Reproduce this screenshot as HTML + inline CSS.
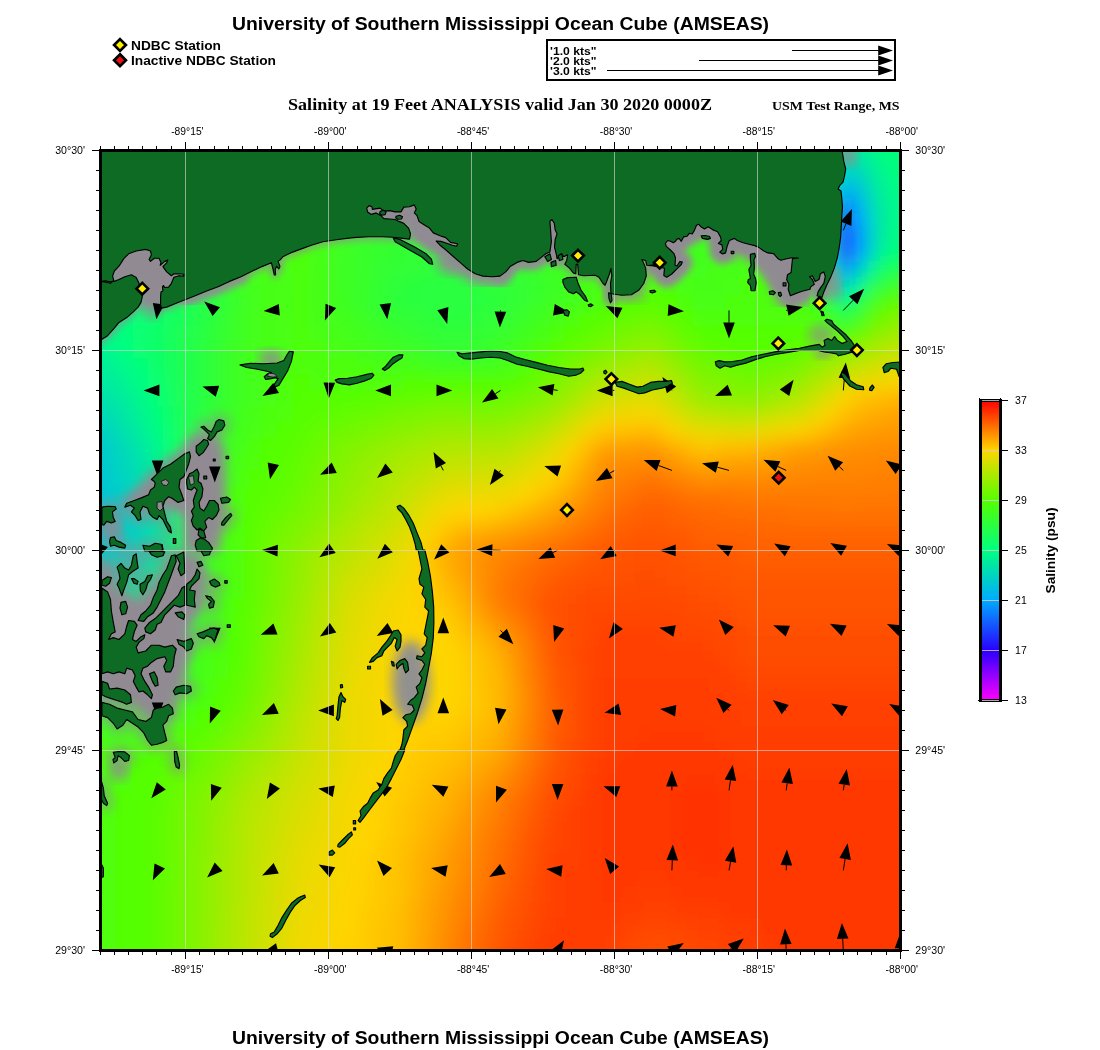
<!DOCTYPE html>
<html lang="en"><head><meta charset="utf-8"><title>USM Ocean Cube (AMSEAS) - Salinity at 19 Feet</title>
<style>
html,body{margin:0;padding:0;background:#fff;}
body{width:1100px;height:1050px;overflow:hidden;font-family:"Liberation Sans",sans-serif;}
svg{display:block;will-change:transform}
.sb{font-family:"Liberation Sans",sans-serif;font-weight:bold}
.s{font-family:"Liberation Sans",sans-serif}
.tb{font-family:"Liberation Serif",serif;font-weight:bold}
</style></head><body>
<svg width="1100" height="1050" viewBox="0 0 1100 1050">
<rect x="0" y="0" width="1100" height="1050" fill="#fff"/>
<defs><clipPath id="mapclip"><rect x="100.50" y="150.50" width="800.00" height="800.00"/></clipPath>
<filter id="fb" x="-5%" y="-5%" width="110%" height="110%"><feGaussianBlur stdDeviation="8.5"/></filter>
<filter id="gb" x="-20%" y="-20%" width="140%" height="140%"><feGaussianBlur stdDeviation="6"/></filter>
<filter id="gb3" x="-20%" y="-20%" width="140%" height="140%"><feGaussianBlur stdDeviation="3.5"/></filter>
</defs>
<g clip-path="url(#mapclip)">
<rect x="60" y="110" width="880" height="880" fill="#ff8000"/>
<g filter="url(#fb)">
<path d="M52 102h17v17h-17zM68 102h17v17h-17zM84 102h17v17h-17zM100 102h17v17h-17zM116 102h17v17h-17zM132 102h17v17h-17zM148 102h17v17h-17zM164 102h17v17h-17zM180 102h17v17h-17zM52 118h17v17h-17zM68 118h17v17h-17zM84 118h17v17h-17zM100 118h17v17h-17zM116 118h17v17h-17zM132 118h17v17h-17zM148 118h17v17h-17zM164 118h17v17h-17zM180 118h17v17h-17zM52 134h17v17h-17zM68 134h17v17h-17zM84 134h17v17h-17zM100 134h17v17h-17zM116 134h17v17h-17zM132 134h17v17h-17zM148 134h17v17h-17zM164 134h17v17h-17zM180 134h17v17h-17zM52 150h17v17h-17zM68 150h17v17h-17zM84 150h17v17h-17zM100 150h17v17h-17zM116 150h17v17h-17zM132 150h17v17h-17zM148 150h17v17h-17zM164 150h17v17h-17zM180 150h17v17h-17zM52 166h17v17h-17zM68 166h17v17h-17zM84 166h17v17h-17zM100 166h17v17h-17zM116 166h17v17h-17zM132 166h17v17h-17zM148 166h17v17h-17zM164 166h17v17h-17zM180 166h17v17h-17zM52 182h17v17h-17zM68 182h17v17h-17zM84 182h17v17h-17zM100 182h17v17h-17zM116 182h17v17h-17zM132 182h17v17h-17zM148 182h17v17h-17zM164 182h17v17h-17zM180 182h17v17h-17zM196 198h17v17h-17zM420 230h17v17h-17zM436 230h17v17h-17zM452 230h17v17h-17zM468 230h17v17h-17zM388 246h17v17h-17zM212 262h17v17h-17zM372 278h17v17h-17zM820 294h17v17h-17zM388 310h17v17h-17zM212 326h17v17h-17zM420 326h17v17h-17zM468 326h17v17h-17zM196 454h17v17h-17zM180 614h17v17h-17zM164 646h17v17h-17zM132 678h17v17h-17z" fill="#33ff33"/>
<path d="M196 102h17v17h-17zM196 118h17v17h-17zM196 134h17v17h-17zM196 150h17v17h-17zM196 166h17v17h-17zM196 182h17v17h-17zM404 230h17v17h-17zM484 230h17v17h-17zM212 246h17v17h-17zM500 246h17v17h-17zM372 262h17v17h-17zM516 278h17v17h-17zM516 294h17v17h-17zM500 310h17v17h-17zM404 326h17v17h-17zM484 326h17v17h-17zM212 342h17v17h-17zM436 342h17v17h-17zM452 342h17v17h-17zM212 358h17v17h-17zM212 374h17v17h-17zM212 390h17v17h-17zM52 694h17v17h-17zM68 694h17v17h-17zM84 694h17v17h-17zM100 694h17v17h-17z" fill="#35ff31"/>
<path d="M212 102h17v17h-17zM212 118h17v17h-17zM212 134h17v17h-17zM212 150h17v17h-17zM212 166h17v17h-17zM212 182h17v17h-17zM212 198h17v17h-17zM388 198h17v17h-17zM404 198h17v17h-17zM420 198h17v17h-17zM436 198h17v17h-17zM452 198h17v17h-17zM468 198h17v17h-17zM484 198h17v17h-17zM500 198h17v17h-17zM356 214h17v17h-17zM372 214h17v17h-17zM516 214h17v17h-17zM356 230h17v17h-17zM532 230h17v17h-17zM532 246h17v17h-17zM532 262h17v17h-17zM228 294h17v17h-17zM532 294h17v17h-17zM516 310h17v17h-17zM500 326h17v17h-17zM212 438h17v17h-17zM196 502h17v17h-17z" fill="#3aff29"/>
<path d="M228 102h17v17h-17zM676 102h17v17h-17zM228 118h17v17h-17zM676 118h17v17h-17zM228 134h17v17h-17zM676 134h17v17h-17zM228 150h17v17h-17zM676 150h17v17h-17zM228 166h17v17h-17zM676 166h17v17h-17zM228 182h17v17h-17zM676 182h17v17h-17zM228 198h17v17h-17zM676 198h17v17h-17zM228 214h17v17h-17zM580 214h17v17h-17zM596 214h17v17h-17zM612 214h17v17h-17zM628 214h17v17h-17zM644 214h17v17h-17zM660 214h17v17h-17zM564 230h17v17h-17zM564 246h17v17h-17zM548 294h17v17h-17zM500 342h17v17h-17zM228 406h17v17h-17zM212 470h17v17h-17zM196 598h17v17h-17zM180 662h17v17h-17zM116 710h17v17h-17z" fill="#3fff21"/>
<path d="M244 102h17v17h-17zM788 102h17v17h-17zM244 118h17v17h-17zM788 118h17v17h-17zM244 134h17v17h-17zM788 134h17v17h-17zM244 150h17v17h-17zM788 150h17v17h-17zM244 166h17v17h-17zM788 166h17v17h-17zM244 182h17v17h-17zM788 182h17v17h-17zM244 198h17v17h-17zM788 198h17v17h-17zM244 214h17v17h-17zM788 214h17v17h-17zM244 230h17v17h-17zM788 230h17v17h-17zM244 246h17v17h-17zM596 246h17v17h-17zM660 246h17v17h-17zM708 246h17v17h-17zM244 262h17v17h-17zM580 262h17v17h-17zM692 262h17v17h-17zM244 278h17v17h-17zM900 278h17v17h-17zM916 278h17v17h-17zM932 278h17v17h-17zM244 294h17v17h-17zM564 294h17v17h-17zM244 310h17v17h-17zM324 310h17v17h-17zM852 310h17v17h-17zM244 326h17v17h-17zM340 326h17v17h-17zM244 342h17v17h-17zM356 342h17v17h-17zM244 358h17v17h-17zM420 358h17v17h-17zM468 358h17v17h-17zM484 358h17v17h-17zM244 374h17v17h-17zM244 390h17v17h-17zM228 438h17v17h-17zM212 502h17v17h-17zM196 630h17v17h-17zM52 726h17v17h-17zM68 726h17v17h-17zM84 726h17v17h-17zM100 726h17v17h-17z" fill="#44ff1a"/>
<path d="M260 102h17v17h-17zM308 102h17v17h-17zM740 102h17v17h-17zM260 118h17v17h-17zM308 118h17v17h-17zM740 118h17v17h-17zM260 134h17v17h-17zM308 134h17v17h-17zM740 134h17v17h-17zM260 150h17v17h-17zM308 150h17v17h-17zM740 150h17v17h-17zM260 166h17v17h-17zM308 166h17v17h-17zM740 166h17v17h-17zM260 182h17v17h-17zM308 182h17v17h-17zM740 182h17v17h-17zM260 198h17v17h-17zM308 198h17v17h-17zM740 198h17v17h-17zM260 214h17v17h-17zM308 214h17v17h-17zM740 214h17v17h-17zM260 230h17v17h-17zM308 230h17v17h-17zM740 230h17v17h-17zM260 246h17v17h-17zM308 246h17v17h-17zM740 246h17v17h-17zM756 246h17v17h-17zM260 262h17v17h-17zM308 262h17v17h-17zM596 262h17v17h-17zM660 262h17v17h-17zM724 262h17v17h-17zM772 262h17v17h-17zM788 262h17v17h-17zM260 278h17v17h-17zM580 278h17v17h-17zM708 278h17v17h-17zM692 294h17v17h-17zM804 294h17v17h-17zM260 310h17v17h-17zM308 310h17v17h-17zM548 310h17v17h-17zM260 326h17v17h-17zM324 326h17v17h-17zM532 326h17v17h-17zM260 342h17v17h-17zM340 342h17v17h-17zM516 342h17v17h-17zM260 358h17v17h-17zM388 358h17v17h-17zM244 406h17v17h-17zM212 550h17v17h-17zM212 566h17v17h-17zM212 582h17v17h-17zM212 598h17v17h-17zM196 662h17v17h-17zM116 726h17v17h-17z" fill="#47ff14"/>
<path d="M276 102h17v17h-17zM276 118h17v17h-17zM276 134h17v17h-17zM276 150h17v17h-17zM276 166h17v17h-17zM276 182h17v17h-17zM276 198h17v17h-17zM276 214h17v17h-17zM276 230h17v17h-17zM276 246h17v17h-17zM276 262h17v17h-17zM612 262h17v17h-17zM628 262h17v17h-17zM740 262h17v17h-17zM756 262h17v17h-17zM276 278h17v17h-17zM676 278h17v17h-17zM724 278h17v17h-17zM276 294h17v17h-17zM580 294h17v17h-17zM708 294h17v17h-17zM276 310h17v17h-17zM276 326h17v17h-17zM308 326h17v17h-17zM276 342h17v17h-17zM324 342h17v17h-17zM372 358h17v17h-17zM500 358h17v17h-17zM260 374h17v17h-17zM260 390h17v17h-17zM244 422h17v17h-17zM228 470h17v17h-17zM212 614h17v17h-17zM196 678h17v17h-17zM164 710h17v17h-17zM132 726h17v17h-17z" fill="#49ff12"/>
<path d="M292 102h17v17h-17zM292 118h17v17h-17zM292 134h17v17h-17zM292 150h17v17h-17zM292 166h17v17h-17zM292 182h17v17h-17zM292 198h17v17h-17zM292 214h17v17h-17zM292 230h17v17h-17zM292 246h17v17h-17zM292 262h17v17h-17zM612 278h17v17h-17zM660 278h17v17h-17zM676 294h17v17h-17zM740 294h17v17h-17zM756 294h17v17h-17zM772 294h17v17h-17zM788 294h17v17h-17zM564 310h17v17h-17zM292 326h17v17h-17zM292 342h17v17h-17zM324 358h17v17h-17zM340 358h17v17h-17zM276 374h17v17h-17zM260 406h17v17h-17zM244 438h17v17h-17zM228 502h17v17h-17zM212 630h17v17h-17zM180 710h17v17h-17zM148 726h17v17h-17zM100 742h17v17h-17zM52 758h17v17h-17zM68 758h17v17h-17zM84 758h17v17h-17zM100 758h17v17h-17zM52 774h17v17h-17zM68 774h17v17h-17zM84 774h17v17h-17z" fill="#4dff0d"/>
<path d="M324 102h17v17h-17zM708 102h17v17h-17zM324 118h17v17h-17zM708 118h17v17h-17zM324 134h17v17h-17zM708 134h17v17h-17zM324 150h17v17h-17zM708 150h17v17h-17zM324 166h17v17h-17zM708 166h17v17h-17zM324 182h17v17h-17zM708 182h17v17h-17zM324 198h17v17h-17zM708 198h17v17h-17zM324 214h17v17h-17zM708 214h17v17h-17zM324 230h17v17h-17zM596 230h17v17h-17zM612 230h17v17h-17zM628 230h17v17h-17zM644 230h17v17h-17zM660 230h17v17h-17zM708 230h17v17h-17zM324 246h17v17h-17zM580 246h17v17h-17zM676 246h17v17h-17zM564 278h17v17h-17zM436 358h17v17h-17zM452 358h17v17h-17zM212 486h17v17h-17zM180 678h17v17h-17zM164 694h17v17h-17zM132 710h17v17h-17z" fill="#42ff1c"/>
<path d="M340 102h17v17h-17zM356 102h17v17h-17zM372 102h17v17h-17zM388 102h17v17h-17zM404 102h17v17h-17zM420 102h17v17h-17zM436 102h17v17h-17zM452 102h17v17h-17zM468 102h17v17h-17zM484 102h17v17h-17zM500 102h17v17h-17zM516 102h17v17h-17zM532 102h17v17h-17zM548 102h17v17h-17zM564 102h17v17h-17zM580 102h17v17h-17zM596 102h17v17h-17zM612 102h17v17h-17zM628 102h17v17h-17zM644 102h17v17h-17zM340 118h17v17h-17zM356 118h17v17h-17zM372 118h17v17h-17zM388 118h17v17h-17zM404 118h17v17h-17zM420 118h17v17h-17zM436 118h17v17h-17zM452 118h17v17h-17zM468 118h17v17h-17zM484 118h17v17h-17zM500 118h17v17h-17zM516 118h17v17h-17zM532 118h17v17h-17zM548 118h17v17h-17zM564 118h17v17h-17zM580 118h17v17h-17zM596 118h17v17h-17zM612 118h17v17h-17zM628 118h17v17h-17zM644 118h17v17h-17zM340 134h17v17h-17zM356 134h17v17h-17zM372 134h17v17h-17zM388 134h17v17h-17zM404 134h17v17h-17zM420 134h17v17h-17zM436 134h17v17h-17zM452 134h17v17h-17zM468 134h17v17h-17zM484 134h17v17h-17zM500 134h17v17h-17zM516 134h17v17h-17zM532 134h17v17h-17zM548 134h17v17h-17zM564 134h17v17h-17zM580 134h17v17h-17zM596 134h17v17h-17zM612 134h17v17h-17zM628 134h17v17h-17zM644 134h17v17h-17zM340 150h17v17h-17zM356 150h17v17h-17zM372 150h17v17h-17zM388 150h17v17h-17zM404 150h17v17h-17zM420 150h17v17h-17zM436 150h17v17h-17zM452 150h17v17h-17zM468 150h17v17h-17zM484 150h17v17h-17zM500 150h17v17h-17zM516 150h17v17h-17zM532 150h17v17h-17zM548 150h17v17h-17zM564 150h17v17h-17zM580 150h17v17h-17zM596 150h17v17h-17zM612 150h17v17h-17zM628 150h17v17h-17zM644 150h17v17h-17zM340 166h17v17h-17zM356 166h17v17h-17zM372 166h17v17h-17zM388 166h17v17h-17zM404 166h17v17h-17zM420 166h17v17h-17zM436 166h17v17h-17zM452 166h17v17h-17zM468 166h17v17h-17zM484 166h17v17h-17zM500 166h17v17h-17zM516 166h17v17h-17zM532 166h17v17h-17zM548 166h17v17h-17zM564 166h17v17h-17zM580 166h17v17h-17zM596 166h17v17h-17zM612 166h17v17h-17zM628 166h17v17h-17zM644 166h17v17h-17zM340 182h17v17h-17zM356 182h17v17h-17zM372 182h17v17h-17zM388 182h17v17h-17zM404 182h17v17h-17zM420 182h17v17h-17zM436 182h17v17h-17zM452 182h17v17h-17zM468 182h17v17h-17zM484 182h17v17h-17zM500 182h17v17h-17zM516 182h17v17h-17zM532 182h17v17h-17zM548 182h17v17h-17zM564 182h17v17h-17zM580 182h17v17h-17zM596 182h17v17h-17zM612 182h17v17h-17zM628 182h17v17h-17zM644 182h17v17h-17zM340 198h17v17h-17zM356 198h17v17h-17zM372 198h17v17h-17zM516 198h17v17h-17zM532 198h17v17h-17zM548 198h17v17h-17zM564 198h17v17h-17zM580 198h17v17h-17zM340 214h17v17h-17zM532 214h17v17h-17zM548 214h17v17h-17zM340 230h17v17h-17zM548 230h17v17h-17zM340 246h17v17h-17zM228 262h17v17h-17zM340 262h17v17h-17zM228 278h17v17h-17zM340 278h17v17h-17zM228 310h17v17h-17zM356 310h17v17h-17zM228 326h17v17h-17zM372 326h17v17h-17zM404 342h17v17h-17zM196 518h17v17h-17zM164 678h17v17h-17zM132 694h17v17h-17zM52 710h17v17h-17zM68 710h17v17h-17zM84 710h17v17h-17z" fill="#3cff26"/>
<path d="M660 102h17v17h-17zM660 118h17v17h-17zM660 134h17v17h-17zM660 150h17v17h-17zM660 166h17v17h-17zM660 182h17v17h-17zM596 198h17v17h-17zM612 198h17v17h-17zM628 198h17v17h-17zM644 198h17v17h-17zM660 198h17v17h-17zM564 214h17v17h-17zM228 230h17v17h-17zM228 246h17v17h-17zM548 246h17v17h-17zM548 262h17v17h-17zM548 278h17v17h-17zM804 278h17v17h-17zM884 278h17v17h-17zM340 294h17v17h-17zM228 342h17v17h-17zM388 342h17v17h-17zM228 358h17v17h-17zM228 374h17v17h-17zM228 390h17v17h-17zM212 454h17v17h-17zM196 534h17v17h-17zM196 550h17v17h-17zM196 566h17v17h-17zM196 582h17v17h-17zM180 646h17v17h-17zM148 694h17v17h-17zM100 710h17v17h-17z" fill="#3dff24"/>
<path d="M692 102h17v17h-17zM692 118h17v17h-17zM692 134h17v17h-17zM692 150h17v17h-17zM692 166h17v17h-17zM692 182h17v17h-17zM692 198h17v17h-17zM676 214h17v17h-17zM692 214h17v17h-17zM580 230h17v17h-17zM676 230h17v17h-17zM692 230h17v17h-17zM692 246h17v17h-17zM324 262h17v17h-17zM564 262h17v17h-17zM324 278h17v17h-17zM324 294h17v17h-17zM340 310h17v17h-17zM532 310h17v17h-17zM356 326h17v17h-17zM516 326h17v17h-17zM372 342h17v17h-17zM228 422h17v17h-17zM196 614h17v17h-17z" fill="#41ff1f"/>
<path d="M724 102h17v17h-17zM756 102h17v17h-17zM772 102h17v17h-17zM724 118h17v17h-17zM756 118h17v17h-17zM772 118h17v17h-17zM724 134h17v17h-17zM756 134h17v17h-17zM772 134h17v17h-17zM724 150h17v17h-17zM756 150h17v17h-17zM772 150h17v17h-17zM724 166h17v17h-17zM756 166h17v17h-17zM772 166h17v17h-17zM724 182h17v17h-17zM756 182h17v17h-17zM772 182h17v17h-17zM724 198h17v17h-17zM756 198h17v17h-17zM772 198h17v17h-17zM724 214h17v17h-17zM756 214h17v17h-17zM772 214h17v17h-17zM724 230h17v17h-17zM756 230h17v17h-17zM772 230h17v17h-17zM612 246h17v17h-17zM628 246h17v17h-17zM644 246h17v17h-17zM724 246h17v17h-17zM772 246h17v17h-17zM788 246h17v17h-17zM676 262h17v17h-17zM708 262h17v17h-17zM308 278h17v17h-17zM692 278h17v17h-17zM260 294h17v17h-17zM308 294h17v17h-17zM820 310h17v17h-17zM404 358h17v17h-17zM228 454h17v17h-17zM212 518h17v17h-17zM212 534h17v17h-17zM196 646h17v17h-17zM180 694h17v17h-17zM148 710h17v17h-17z" fill="#46ff17"/>
<path d="M804 102h17v17h-17zM804 118h17v17h-17zM804 134h17v17h-17zM52 198h17v17h-17zM68 198h17v17h-17zM84 198h17v17h-17zM100 198h17v17h-17zM116 198h17v17h-17zM132 198h17v17h-17zM148 198h17v17h-17zM420 246h17v17h-17zM436 246h17v17h-17zM452 246h17v17h-17zM404 262h17v17h-17zM484 262h17v17h-17zM500 278h17v17h-17zM212 294h17v17h-17zM500 294h17v17h-17zM404 310h17v17h-17zM484 310h17v17h-17zM436 326h17v17h-17zM452 326h17v17h-17zM196 422h17v17h-17zM180 598h17v17h-17zM148 662h17v17h-17z" fill="#30ff38"/>
<path d="M820 102h17v17h-17zM116 246h17v17h-17zM148 262h17v17h-17zM164 294h17v17h-17zM148 614h17v17h-17zM52 646h17v17h-17zM68 646h17v17h-17zM84 646h17v17h-17z" fill="#14ff61"/>
<path d="M836 102h17v17h-17zM820 182h17v17h-17zM884 198h17v17h-17zM52 326h17v17h-17zM68 326h17v17h-17zM84 326h17v17h-17zM100 342h17v17h-17zM148 438h17v17h-17z" fill="#00f78d"/>
<path d="M852 102h17v17h-17zM52 342h17v17h-17zM68 342h17v17h-17zM84 342h17v17h-17zM116 374h17v17h-17zM132 406h17v17h-17zM148 454h17v17h-17z" fill="#00f392"/>
<path d="M868 102h17v17h-17zM868 118h17v17h-17zM868 134h17v17h-17zM852 278h17v17h-17zM148 422h17v17h-17z" fill="#00fc85"/>
<path d="M884 102h17v17h-17zM884 118h17v17h-17zM884 134h17v17h-17zM900 166h17v17h-17zM916 166h17v17h-17zM932 166h17v17h-17zM52 278h17v17h-17zM68 278h17v17h-17zM84 278h17v17h-17zM836 294h17v17h-17zM148 390h17v17h-17zM164 486h17v17h-17zM164 502h17v17h-17zM164 518h17v17h-17zM164 534h17v17h-17z" fill="#05ff78"/>
<path d="M900 102h17v17h-17zM916 102h17v17h-17zM932 102h17v17h-17zM900 118h17v17h-17zM916 118h17v17h-17zM932 118h17v17h-17zM900 134h17v17h-17zM916 134h17v17h-17zM932 134h17v17h-17zM116 278h17v17h-17zM132 326h17v17h-17zM132 342h17v17h-17zM164 470h17v17h-17zM164 550h17v17h-17zM52 630h17v17h-17zM68 630h17v17h-17zM84 630h17v17h-17z" fill="#08ff73"/>
<path d="M820 118h17v17h-17zM820 134h17v17h-17zM164 390h17v17h-17z" fill="#13ff64"/>
<path d="M836 118h17v17h-17zM148 566h17v17h-17zM132 582h17v17h-17zM100 598h17v17h-17z" fill="#00f58f"/>
<path d="M852 118h17v17h-17zM52 598h17v17h-17zM68 598h17v17h-17zM84 598h17v17h-17z" fill="#00f194"/>
<path d="M836 134h17v17h-17zM852 134h17v17h-17zM868 166h17v17h-17zM100 358h17v17h-17z" fill="#00f097"/>
<path d="M804 150h17v17h-17zM180 214h17v17h-17zM196 230h17v17h-17zM420 262h17v17h-17zM468 262h17v17h-17zM388 278h17v17h-17zM484 278h17v17h-17zM420 310h17v17h-17zM468 310h17v17h-17zM196 406h17v17h-17zM116 678h17v17h-17z" fill="#2eff3b"/>
<path d="M820 150h17v17h-17zM116 262h17v17h-17zM148 310h17v17h-17zM148 358h17v17h-17zM164 422h17v17h-17z" fill="#0eff6c"/>
<path d="M836 150h17v17h-17zM868 230h17v17h-17zM116 422h17v17h-17zM132 454h17v17h-17zM116 566h17v17h-17z" fill="#00e2ab"/>
<path d="M852 150h17v17h-17zM116 406h17v17h-17zM132 438h17v17h-17zM148 502h17v17h-17zM148 518h17v17h-17zM132 566h17v17h-17z" fill="#00e7a4"/>
<path d="M868 150h17v17h-17zM884 214h17v17h-17zM884 230h17v17h-17zM132 390h17v17h-17z" fill="#00f88a"/>
<path d="M884 150h17v17h-17zM900 182h17v17h-17zM916 182h17v17h-17zM932 182h17v17h-17zM900 214h17v17h-17zM916 214h17v17h-17zM932 214h17v17h-17zM100 294h17v17h-17zM116 326h17v17h-17zM148 406h17v17h-17z" fill="#02ff7d"/>
<path d="M900 150h17v17h-17zM916 150h17v17h-17zM932 150h17v17h-17zM100 278h17v17h-17zM132 294h17v17h-17zM132 310h17v17h-17zM116 614h17v17h-17z" fill="#07ff76"/>
<path d="M804 166h17v17h-17zM196 246h17v17h-17zM436 262h17v17h-17zM452 262h17v17h-17zM404 278h17v17h-17zM468 278h17v17h-17zM388 294h17v17h-17zM484 294h17v17h-17zM436 310h17v17h-17zM452 310h17v17h-17zM836 310h17v17h-17zM196 342h17v17h-17zM196 358h17v17h-17zM196 374h17v17h-17zM196 390h17v17h-17zM180 582h17v17h-17zM164 630h17v17h-17z" fill="#2cff3d"/>
<path d="M820 166h17v17h-17zM900 230h17v17h-17zM916 230h17v17h-17zM932 230h17v17h-17zM116 294h17v17h-17zM116 310h17v17h-17zM132 358h17v17h-17z" fill="#03ff7b"/>
<path d="M836 166h17v17h-17zM100 470h17v17h-17zM100 534h17v17h-17z" fill="#00cacf"/>
<path d="M852 166h17v17h-17zM52 406h17v17h-17zM68 406h17v17h-17zM84 406h17v17h-17zM100 422h17v17h-17zM132 518h17v17h-17zM132 534h17v17h-17zM116 550h17v17h-17z" fill="#00d6bd"/>
<path d="M884 166h17v17h-17zM820 262h17v17h-17zM100 310h17v17h-17zM132 374h17v17h-17zM52 614h17v17h-17zM68 614h17v17h-17zM84 614h17v17h-17z" fill="#00fd83"/>
<path d="M804 182h17v17h-17zM148 214h17v17h-17zM180 230h17v17h-17zM196 262h17v17h-17zM420 294h17v17h-17zM436 294h17v17h-17zM452 294h17v17h-17zM180 566h17v17h-17zM132 662h17v17h-17zM52 678h17v17h-17zM68 678h17v17h-17zM84 678h17v17h-17z" fill="#29ff43"/>
<path d="M836 182h17v17h-17z" fill="#00adfa"/>
<path d="M852 182h17v17h-17zM52 470h17v17h-17zM68 470h17v17h-17zM84 470h17v17h-17zM52 518h17v17h-17zM68 518h17v17h-17zM84 518h17v17h-17z" fill="#00c5d6"/>
<path d="M868 182h17v17h-17zM868 246h17v17h-17zM148 486h17v17h-17zM100 582h17v17h-17z" fill="#00e9a1"/>
<path d="M884 182h17v17h-17zM52 310h17v17h-17zM68 310h17v17h-17zM84 310h17v17h-17zM100 326h17v17h-17zM116 358h17v17h-17zM116 598h17v17h-17z" fill="#00fa88"/>
<path d="M164 198h17v17h-17zM180 198h17v17h-17zM196 214h17v17h-17zM404 246h17v17h-17zM468 246h17v17h-17zM484 246h17v17h-17zM388 262h17v17h-17zM500 262h17v17h-17zM804 262h17v17h-17zM212 278h17v17h-17zM372 294h17v17h-17zM212 310h17v17h-17zM196 438h17v17h-17z" fill="#31ff36"/>
<path d="M804 198h17v17h-17zM132 214h17v17h-17zM804 246h17v17h-17zM900 262h17v17h-17zM916 262h17v17h-17zM932 262h17v17h-17zM196 278h17v17h-17zM852 294h17v17h-17zM196 310h17v17h-17zM148 646h17v17h-17z" fill="#27ff45"/>
<path d="M820 198h17v17h-17zM52 358h17v17h-17zM68 358h17v17h-17zM84 358h17v17h-17z" fill="#00ec9c"/>
<path d="M836 198h17v17h-17z" fill="#0d77ff"/>
<path d="M852 198h17v17h-17z" fill="#00b4f0"/>
<path d="M868 198h17v17h-17zM868 214h17v17h-17zM100 390h17v17h-17z" fill="#00e4a9"/>
<path d="M900 198h17v17h-17zM916 198h17v17h-17zM932 198h17v17h-17zM884 246h17v17h-17zM52 294h17v17h-17zM68 294h17v17h-17zM84 294h17v17h-17zM116 342h17v17h-17zM148 582h17v17h-17zM132 598h17v17h-17zM100 614h17v17h-17z" fill="#00ff80"/>
<path d="M52 214h17v17h-17zM68 214h17v17h-17zM84 214h17v17h-17zM180 342h17v17h-17zM180 534h17v17h-17zM164 614h17v17h-17z" fill="#24ff4a"/>
<path d="M100 214h17v17h-17zM116 214h17v17h-17zM804 214h17v17h-17zM164 230h17v17h-17zM804 230h17v17h-17zM180 246h17v17h-17zM196 294h17v17h-17zM180 550h17v17h-17zM116 662h17v17h-17z" fill="#25ff48"/>
<path d="M164 214h17v17h-17zM420 278h17v17h-17zM436 278h17v17h-17zM452 278h17v17h-17zM868 278h17v17h-17zM404 294h17v17h-17zM468 294h17v17h-17zM196 326h17v17h-17zM100 678h17v17h-17z" fill="#2aff40"/>
<path d="M212 214h17v17h-17zM388 214h17v17h-17zM404 214h17v17h-17zM484 214h17v17h-17zM500 214h17v17h-17zM372 230h17v17h-17zM516 230h17v17h-17zM356 246h17v17h-17zM356 262h17v17h-17zM356 278h17v17h-17zM532 278h17v17h-17zM356 294h17v17h-17zM388 326h17v17h-17zM420 342h17v17h-17zM484 342h17v17h-17zM212 422h17v17h-17zM196 486h17v17h-17zM180 630h17v17h-17zM164 662h17v17h-17zM116 694h17v17h-17z" fill="#38ff2c"/>
<path d="M420 214h17v17h-17zM436 214h17v17h-17zM452 214h17v17h-17zM468 214h17v17h-17zM212 230h17v17h-17zM388 230h17v17h-17zM500 230h17v17h-17zM372 246h17v17h-17zM516 246h17v17h-17zM516 262h17v17h-17zM372 310h17v17h-17zM468 342h17v17h-17zM212 406h17v17h-17zM196 470h17v17h-17zM148 678h17v17h-17z" fill="#36ff2e"/>
<path d="M820 214h17v17h-17zM820 246h17v17h-17zM52 374h17v17h-17zM68 374h17v17h-17zM84 374h17v17h-17zM148 534h17v17h-17zM52 582h17v17h-17zM68 582h17v17h-17zM84 582h17v17h-17z" fill="#00e6a6"/>
<path d="M836 214h17v17h-17z" fill="#184bff"/>
<path d="M852 214h17v17h-17z" fill="#00aaff"/>
<path d="M52 230h17v17h-17zM68 230h17v17h-17zM84 230h17v17h-17zM100 230h17v17h-17zM148 246h17v17h-17zM164 342h17v17h-17z" fill="#19ff5a"/>
<path d="M116 230h17v17h-17zM180 294h17v17h-17zM164 598h17v17h-17z" fill="#1dff54"/>
<path d="M132 230h17v17h-17zM884 262h17v17h-17zM180 278h17v17h-17zM180 310h17v17h-17zM148 630h17v17h-17zM52 662h17v17h-17zM68 662h17v17h-17zM84 662h17v17h-17z" fill="#1fff52"/>
<path d="M148 230h17v17h-17zM180 262h17v17h-17zM180 358h17v17h-17zM180 374h17v17h-17zM180 502h17v17h-17zM180 518h17v17h-17z" fill="#22ff4d"/>
<path d="M820 230h17v17h-17z" fill="#00e0ae"/>
<path d="M836 230h17v17h-17z" fill="#1f2cff"/>
<path d="M852 230h17v17h-17z" fill="#0499ff"/>
<path d="M52 246h17v17h-17zM68 246h17v17h-17zM84 246h17v17h-17zM148 278h17v17h-17zM148 326h17v17h-17zM164 566h17v17h-17z" fill="#0fff69"/>
<path d="M100 246h17v17h-17zM132 262h17v17h-17zM148 342h17v17h-17zM164 406h17v17h-17zM116 630h17v17h-17z" fill="#11ff66"/>
<path d="M132 246h17v17h-17zM164 310h17v17h-17zM164 374h17v17h-17zM164 582h17v17h-17zM132 630h17v17h-17zM100 646h17v17h-17z" fill="#16ff5f"/>
<path d="M164 246h17v17h-17zM180 326h17v17h-17zM180 390h17v17h-17zM180 406h17v17h-17zM180 422h17v17h-17zM180 438h17v17h-17zM180 454h17v17h-17zM180 470h17v17h-17zM180 486h17v17h-17zM132 646h17v17h-17zM100 662h17v17h-17z" fill="#20ff4f"/>
<path d="M836 246h17v17h-17z" fill="#1c3aff"/>
<path d="M852 246h17v17h-17z" fill="#01a7ff"/>
<path d="M900 246h17v17h-17zM916 246h17v17h-17zM932 246h17v17h-17zM52 262h17v17h-17zM68 262h17v17h-17zM84 262h17v17h-17zM868 262h17v17h-17zM148 374h17v17h-17zM164 454h17v17h-17zM148 598h17v17h-17z" fill="#0aff71"/>
<path d="M100 262h17v17h-17zM132 278h17v17h-17zM148 294h17v17h-17zM164 438h17v17h-17zM132 614h17v17h-17zM100 630h17v17h-17z" fill="#0cff6e"/>
<path d="M164 262h17v17h-17zM116 646h17v17h-17z" fill="#1bff57"/>
<path d="M644 262h17v17h-17zM292 278h17v17h-17zM596 278h17v17h-17zM740 278h17v17h-17zM756 278h17v17h-17zM772 278h17v17h-17zM788 278h17v17h-17zM292 294h17v17h-17zM724 294h17v17h-17zM868 294h17v17h-17zM292 310h17v17h-17zM308 342h17v17h-17zM276 358h17v17h-17zM356 358h17v17h-17zM228 486h17v17h-17zM196 694h17v17h-17zM52 742h17v17h-17zM68 742h17v17h-17zM84 742h17v17h-17z" fill="#4bff0f"/>
<path d="M836 262h17v17h-17z" fill="#078fff"/>
<path d="M852 262h17v17h-17zM116 486h17v17h-17z" fill="#00d1c5"/>
<path d="M164 278h17v17h-17zM820 278h17v17h-17zM164 326h17v17h-17zM164 358h17v17h-17z" fill="#18ff5c"/>
<path d="M628 278h17v17h-17zM596 294h17v17h-17zM692 310h17v17h-17zM708 310h17v17h-17zM724 310h17v17h-17zM740 310h17v17h-17zM548 326h17v17h-17zM836 326h17v17h-17zM292 358h17v17h-17zM308 358h17v17h-17zM276 390h17v17h-17zM260 422h17v17h-17zM228 518h17v17h-17zM212 646h17v17h-17zM116 742h17v17h-17zM100 774h17v17h-17zM52 790h17v17h-17zM68 790h17v17h-17zM84 790h17v17h-17zM52 806h17v17h-17zM68 806h17v17h-17zM84 806h17v17h-17zM52 822h17v17h-17zM68 822h17v17h-17zM84 822h17v17h-17zM52 838h17v17h-17zM68 838h17v17h-17zM84 838h17v17h-17zM52 854h17v17h-17zM68 854h17v17h-17zM84 854h17v17h-17zM52 870h17v17h-17zM68 870h17v17h-17zM84 870h17v17h-17zM52 886h17v17h-17zM68 886h17v17h-17zM84 886h17v17h-17zM52 902h17v17h-17zM68 902h17v17h-17zM84 902h17v17h-17zM52 918h17v17h-17zM68 918h17v17h-17zM84 918h17v17h-17zM52 934h17v17h-17zM68 934h17v17h-17zM84 934h17v17h-17zM52 950h17v17h-17zM68 950h17v17h-17zM84 950h17v17h-17zM52 966h17v17h-17zM68 966h17v17h-17zM84 966h17v17h-17zM52 982h17v17h-17zM68 982h17v17h-17zM84 982h17v17h-17z" fill="#4eff0a"/>
<path d="M644 278h17v17h-17zM756 310h17v17h-17zM772 310h17v17h-17zM788 310h17v17h-17zM804 310h17v17h-17zM532 342h17v17h-17zM516 358h17v17h-17zM308 374h17v17h-17zM324 374h17v17h-17zM340 374h17v17h-17zM356 374h17v17h-17zM372 374h17v17h-17zM388 374h17v17h-17zM276 406h17v17h-17zM244 454h17v17h-17zM228 534h17v17h-17zM228 550h17v17h-17zM228 566h17v17h-17zM228 582h17v17h-17zM212 662h17v17h-17zM164 726h17v17h-17zM132 742h17v17h-17zM116 758h17v17h-17zM116 774h17v17h-17zM100 790h17v17h-17zM100 806h17v17h-17zM100 822h17v17h-17zM100 838h17v17h-17zM100 854h17v17h-17zM100 870h17v17h-17zM100 886h17v17h-17zM100 902h17v17h-17zM100 918h17v17h-17zM100 934h17v17h-17zM100 950h17v17h-17zM100 966h17v17h-17zM100 982h17v17h-17z" fill="#50ff08"/>
<path d="M836 278h17v17h-17zM52 422h17v17h-17zM68 422h17v17h-17zM84 422h17v17h-17zM100 438h17v17h-17zM116 502h17v17h-17zM116 518h17v17h-17zM116 534h17v17h-17zM100 550h17v17h-17z" fill="#00cfc7"/>
<path d="M612 294h17v17h-17zM660 294h17v17h-17zM580 310h17v17h-17zM740 326h17v17h-17zM756 326h17v17h-17zM292 374h17v17h-17zM404 374h17v17h-17zM420 374h17v17h-17zM436 374h17v17h-17zM452 374h17v17h-17zM468 374h17v17h-17zM484 374h17v17h-17zM260 438h17v17h-17zM244 470h17v17h-17zM228 598h17v17h-17zM228 614h17v17h-17zM212 678h17v17h-17zM196 710h17v17h-17zM132 758h17v17h-17zM132 774h17v17h-17zM116 790h17v17h-17zM116 806h17v17h-17zM116 822h17v17h-17zM116 838h17v17h-17zM116 854h17v17h-17zM116 870h17v17h-17zM116 886h17v17h-17zM116 902h17v17h-17zM116 918h17v17h-17zM116 934h17v17h-17zM116 950h17v17h-17zM116 966h17v17h-17zM116 982h17v17h-17z" fill="#52ff05"/>
<path d="M628 294h17v17h-17zM708 326h17v17h-17zM724 326h17v17h-17zM772 326h17v17h-17zM740 342h17v17h-17zM500 374h17v17h-17zM292 390h17v17h-17zM308 390h17v17h-17zM324 390h17v17h-17zM276 422h17v17h-17zM260 454h17v17h-17zM228 630h17v17h-17zM212 694h17v17h-17zM180 726h17v17h-17zM148 742h17v17h-17zM132 790h17v17h-17zM132 806h17v17h-17zM132 822h17v17h-17zM132 838h17v17h-17zM132 854h17v17h-17zM132 870h17v17h-17zM132 886h17v17h-17zM132 902h17v17h-17zM132 918h17v17h-17zM132 934h17v17h-17zM132 950h17v17h-17zM132 966h17v17h-17zM132 982h17v17h-17z" fill="#53ff03"/>
<path d="M644 294h17v17h-17zM676 310h17v17h-17zM564 326h17v17h-17zM692 326h17v17h-17zM788 326h17v17h-17zM756 342h17v17h-17zM340 390h17v17h-17zM292 406h17v17h-17zM276 438h17v17h-17zM260 470h17v17h-17zM244 486h17v17h-17zM228 646h17v17h-17zM148 758h17v17h-17z" fill="#55ff00"/>
<path d="M884 294h17v17h-17zM708 342h17v17h-17zM788 342h17v17h-17zM532 358h17v17h-17zM372 390h17v17h-17zM260 486h17v17h-17zM244 534h17v17h-17zM196 726h17v17h-17zM164 758h17v17h-17zM148 806h17v17h-17zM148 822h17v17h-17zM148 838h17v17h-17zM148 854h17v17h-17zM148 870h17v17h-17zM148 886h17v17h-17zM148 902h17v17h-17zM148 918h17v17h-17zM148 934h17v17h-17zM148 950h17v17h-17zM148 966h17v17h-17zM148 982h17v17h-17z" fill="#5cfd00"/>
<path d="M900 294h17v17h-17zM916 294h17v17h-17zM932 294h17v17h-17zM596 326h17v17h-17zM852 326h17v17h-17zM804 342h17v17h-17zM548 358h17v17h-17zM724 358h17v17h-17zM756 358h17v17h-17zM436 390h17v17h-17zM452 390h17v17h-17zM500 390h17v17h-17zM324 422h17v17h-17zM308 438h17v17h-17zM276 502h17v17h-17zM244 662h17v17h-17zM212 726h17v17h-17zM196 742h17v17h-17zM164 806h17v17h-17zM164 822h17v17h-17zM164 838h17v17h-17zM164 854h17v17h-17zM164 870h17v17h-17z" fill="#69fa00"/>
<path d="M596 310h17v17h-17zM804 326h17v17h-17zM820 326h17v17h-17zM548 342h17v17h-17zM724 342h17v17h-17zM772 342h17v17h-17zM356 390h17v17h-17zM308 406h17v17h-17zM292 422h17v17h-17zM276 454h17v17h-17zM244 502h17v17h-17zM244 518h17v17h-17zM228 662h17v17h-17zM164 742h17v17h-17zM148 774h17v17h-17zM148 790h17v17h-17z" fill="#58fe00"/>
<path d="M612 310h17v17h-17zM660 310h17v17h-17zM580 326h17v17h-17zM516 374h17v17h-17zM388 390h17v17h-17zM324 406h17v17h-17zM292 438h17v17h-17zM276 470h17v17h-17zM260 502h17v17h-17zM244 550h17v17h-17zM244 566h17v17h-17zM244 582h17v17h-17zM244 598h17v17h-17zM228 678h17v17h-17zM212 710h17v17h-17zM180 742h17v17h-17z" fill="#5ffc00"/>
<path d="M628 310h17v17h-17zM868 310h17v17h-17zM420 390h17v17h-17zM468 390h17v17h-17zM484 390h17v17h-17zM356 406h17v17h-17zM292 470h17v17h-17zM260 518h17v17h-17zM244 646h17v17h-17zM180 758h17v17h-17zM164 790h17v17h-17z" fill="#66fb00"/>
<path d="M644 310h17v17h-17zM532 374h17v17h-17zM372 406h17v17h-17zM292 486h17v17h-17zM260 534h17v17h-17zM228 710h17v17h-17zM180 774h17v17h-17zM164 886h17v17h-17zM164 902h17v17h-17zM164 918h17v17h-17zM164 934h17v17h-17zM164 950h17v17h-17zM164 966h17v17h-17zM164 982h17v17h-17z" fill="#6df900"/>
<path d="M884 310h17v17h-17zM628 326h17v17h-17zM596 342h17v17h-17zM820 342h17v17h-17zM564 358h17v17h-17zM724 374h17v17h-17zM324 454h17v17h-17zM308 486h17v17h-17zM276 534h17v17h-17zM260 630h17v17h-17zM228 726h17v17h-17zM196 774h17v17h-17zM180 838h17v17h-17zM180 854h17v17h-17zM180 870h17v17h-17zM180 886h17v17h-17zM180 902h17v17h-17zM180 918h17v17h-17zM180 934h17v17h-17zM180 950h17v17h-17zM180 966h17v17h-17zM180 982h17v17h-17z" fill="#7af600"/>
<path d="M900 310h17v17h-17zM916 310h17v17h-17zM932 310h17v17h-17zM868 326h17v17h-17zM580 358h17v17h-17zM676 358h17v17h-17zM804 358h17v17h-17zM772 374h17v17h-17zM740 390h17v17h-17zM356 438h17v17h-17zM340 454h17v17h-17zM324 486h17v17h-17zM292 534h17v17h-17zM276 598h17v17h-17zM244 726h17v17h-17zM212 774h17v17h-17zM196 838h17v17h-17z" fill="#88f200"/>
<path d="M612 326h17v17h-17zM660 326h17v17h-17zM676 342h17v17h-17zM692 358h17v17h-17zM740 374h17v17h-17zM516 390h17v17h-17zM388 406h17v17h-17zM324 438h17v17h-17zM308 470h17v17h-17zM292 502h17v17h-17zM276 518h17v17h-17zM260 598h17v17h-17zM244 694h17v17h-17zM180 790h17v17h-17z" fill="#74f700"/>
<path d="M644 326h17v17h-17zM836 342h17v17h-17zM708 374h17v17h-17zM436 406h17v17h-17zM452 406h17v17h-17zM500 406h17v17h-17zM324 470h17v17h-17zM308 502h17v17h-17zM276 550h17v17h-17zM276 566h17v17h-17zM260 662h17v17h-17zM212 758h17v17h-17zM196 790h17v17h-17z" fill="#81f400"/>
<path d="M676 326h17v17h-17zM564 342h17v17h-17zM692 342h17v17h-17zM740 358h17v17h-17zM404 390h17v17h-17zM340 406h17v17h-17zM308 422h17v17h-17zM292 454h17v17h-17zM276 486h17v17h-17zM244 614h17v17h-17zM244 630h17v17h-17zM228 694h17v17h-17zM164 774h17v17h-17z" fill="#63fc00"/>
<path d="M884 326h17v17h-17zM660 358h17v17h-17zM820 358h17v17h-17zM676 374h17v17h-17zM500 422h17v17h-17zM372 454h17v17h-17zM340 502h17v17h-17zM324 518h17v17h-17zM260 726h17v17h-17zM212 854h17v17h-17zM212 870h17v17h-17zM212 886h17v17h-17zM212 902h17v17h-17z" fill="#9ced00"/>
<path d="M900 326h17v17h-17zM916 326h17v17h-17zM932 326h17v17h-17zM564 390h17v17h-17zM356 486h17v17h-17zM292 630h17v17h-17zM260 742h17v17h-17zM228 790h17v17h-17z" fill="#a3ec00"/>
<path d="M580 342h17v17h-17zM708 358h17v17h-17zM772 358h17v17h-17zM340 422h17v17h-17zM308 454h17v17h-17zM260 550h17v17h-17zM260 566h17v17h-17zM260 582h17v17h-17zM244 678h17v17h-17zM196 758h17v17h-17z" fill="#70f800"/>
<path d="M612 342h17v17h-17zM660 342h17v17h-17zM692 374h17v17h-17zM388 422h17v17h-17zM276 582h17v17h-17zM260 678h17v17h-17zM228 742h17v17h-17zM196 806h17v17h-17zM196 822h17v17h-17z" fill="#85f300"/>
<path d="M628 342h17v17h-17zM564 374h17v17h-17zM548 390h17v17h-17zM516 406h17v17h-17zM372 438h17v17h-17zM340 470h17v17h-17zM324 502h17v17h-17zM292 550h17v17h-17zM276 630h17v17h-17zM228 758h17v17h-17z" fill="#8ff100"/>
<path d="M644 342h17v17h-17zM596 358h17v17h-17zM692 390h17v17h-17zM436 422h17v17h-17zM468 422h17v17h-17zM484 422h17v17h-17zM340 486h17v17h-17zM292 582h17v17h-17zM276 662h17v17h-17zM244 742h17v17h-17zM212 806h17v17h-17z" fill="#96ef00"/>
<path d="M852 342h17v17h-17zM532 406h17v17h-17zM452 422h17v17h-17zM388 438h17v17h-17zM356 470h17v17h-17zM308 534h17v17h-17zM292 598h17v17h-17zM276 678h17v17h-17zM228 774h17v17h-17zM212 822h17v17h-17zM212 838h17v17h-17z" fill="#99ee00"/>
<path d="M868 342h17v17h-17zM836 358h17v17h-17zM788 390h17v17h-17zM436 438h17v17h-17zM452 438h17v17h-17zM468 438h17v17h-17zM484 438h17v17h-17zM404 454h17v17h-17zM372 486h17v17h-17zM292 662h17v17h-17zM276 726h17v17h-17zM260 758h17v17h-17zM228 854h17v17h-17zM228 870h17v17h-17zM228 886h17v17h-17z" fill="#ade900"/>
<path d="M884 342h17v17h-17zM692 406h17v17h-17zM756 406h17v17h-17zM404 470h17v17h-17zM388 486h17v17h-17zM308 646h17v17h-17zM292 710h17v17h-17zM276 758h17v17h-17zM244 822h17v17h-17zM244 838h17v17h-17z" fill="#bbe600"/>
<path d="M900 342h17v17h-17zM916 342h17v17h-17zM932 342h17v17h-17zM852 358h17v17h-17zM628 374h17v17h-17zM516 438h17v17h-17zM452 454h17v17h-17zM468 454h17v17h-17zM372 518h17v17h-17zM356 534h17v17h-17zM308 678h17v17h-17zM276 774h17v17h-17zM260 806h17v17h-17zM244 902h17v17h-17zM244 918h17v17h-17zM244 934h17v17h-17z" fill="#c2e400"/>
<path d="M612 358h17v17h-17zM580 374h17v17h-17zM772 390h17v17h-17zM404 438h17v17h-17zM308 550h17v17h-17zM292 614h17v17h-17zM276 694h17v17h-17zM244 758h17v17h-17zM212 918h17v17h-17zM212 934h17v17h-17zM212 950h17v17h-17zM212 966h17v17h-17zM212 982h17v17h-17z" fill="#a0ed00"/>
<path d="M628 358h17v17h-17zM548 406h17v17h-17zM356 502h17v17h-17zM340 518h17v17h-17zM308 582h17v17h-17zM244 774h17v17h-17zM228 822h17v17h-17zM228 838h17v17h-17z" fill="#aaea00"/>
<path d="M644 358h17v17h-17zM596 374h17v17h-17zM660 374h17v17h-17zM676 390h17v17h-17zM740 406h17v17h-17zM388 470h17v17h-17zM324 550h17v17h-17zM308 598h17v17h-17zM292 678h17v17h-17zM228 902h17v17h-17zM228 918h17v17h-17zM228 934h17v17h-17zM228 950h17v17h-17zM228 966h17v17h-17zM228 982h17v17h-17z" fill="#b1e800"/>
<path d="M788 358h17v17h-17zM404 406h17v17h-17zM356 422h17v17h-17zM260 614h17v17h-17zM212 742h17v17h-17zM180 806h17v17h-17zM180 822h17v17h-17z" fill="#77f700"/>
<path d="M868 358h17v17h-17zM676 406h17v17h-17zM532 438h17v17h-17zM388 518h17v17h-17zM372 534h17v17h-17zM324 646h17v17h-17zM308 726h17v17h-17zM292 774h17v17h-17zM276 806h17v17h-17zM260 886h17v17h-17zM260 902h17v17h-17zM260 918h17v17h-17z" fill="#cfe100"/>
<path d="M884 358h17v17h-17zM484 470h17v17h-17zM388 534h17v17h-17zM340 598h17v17h-17zM324 694h17v17h-17zM324 710h17v17h-17zM308 774h17v17h-17zM292 806h17v17h-17zM276 854h17v17h-17zM276 870h17v17h-17z" fill="#dade00"/>
<path d="M900 358h17v17h-17zM916 358h17v17h-17zM932 358h17v17h-17zM644 390h17v17h-17zM820 390h17v17h-17zM724 422h17v17h-17zM740 422h17v17h-17zM404 518h17v17h-17zM372 566h17v17h-17zM340 630h17v17h-17zM324 758h17v17h-17zM308 790h17v17h-17zM276 918h17v17h-17zM276 934h17v17h-17z" fill="#e0dd00"/>
<path d="M100 374h17v17h-17zM148 550h17v17h-17z" fill="#00eb9e"/>
<path d="M548 374h17v17h-17zM756 374h17v17h-17zM532 390h17v17h-17zM420 406h17v17h-17zM468 406h17v17h-17zM484 406h17v17h-17zM372 422h17v17h-17zM340 438h17v17h-17zM292 518h17v17h-17zM260 646h17v17h-17zM244 710h17v17h-17z" fill="#7ef500"/>
<path d="M612 374h17v17h-17zM580 390h17v17h-17zM708 406h17v17h-17zM420 454h17v17h-17zM372 502h17v17h-17zM356 518h17v17h-17zM324 566h17v17h-17zM308 630h17v17h-17zM260 774h17v17h-17zM244 806h17v17h-17z" fill="#b8e700"/>
<path d="M644 374h17v17h-17zM660 390h17v17h-17zM772 406h17v17h-17zM404 486h17v17h-17zM340 566h17v17h-17zM324 614h17v17h-17zM308 694h17v17h-17zM260 838h17v17h-17z" fill="#c9e200"/>
<path d="M788 374h17v17h-17zM708 390h17v17h-17zM756 390h17v17h-17zM420 422h17v17h-17zM356 454h17v17h-17zM292 566h17v17h-17zM276 646h17v17h-17zM260 710h17v17h-17zM212 790h17v17h-17z" fill="#92f000"/>
<path d="M804 374h17v17h-17zM516 422h17v17h-17zM420 438h17v17h-17zM388 454h17v17h-17zM372 470h17v17h-17zM324 534h17v17h-17zM308 566h17v17h-17zM292 646h17v17h-17zM276 710h17v17h-17zM228 806h17v17h-17z" fill="#a7eb00"/>
<path d="M820 374h17v17h-17zM564 406h17v17h-17zM436 454h17v17h-17zM340 550h17v17h-17zM324 582h17v17h-17zM308 662h17v17h-17zM292 726h17v17h-17zM260 790h17v17h-17zM244 854h17v17h-17zM244 870h17v17h-17zM244 886h17v17h-17z" fill="#bee500"/>
<path d="M836 374h17v17h-17zM580 406h17v17h-17zM516 454h17v17h-17zM452 470h17v17h-17zM468 470h17v17h-17zM420 486h17v17h-17zM404 502h17v17h-17zM372 550h17v17h-17zM356 566h17v17h-17zM324 678h17v17h-17zM308 758h17v17h-17zM292 790h17v17h-17zM276 838h17v17h-17z" fill="#d6df00"/>
<path d="M852 374h17v17h-17zM804 406h17v17h-17zM420 502h17v17h-17zM372 582h17v17h-17zM356 614h17v17h-17zM340 678h17v17h-17zM308 822h17v17h-17zM292 870h17v17h-17z" fill="#e7db00"/>
<path d="M868 374h17v17h-17zM612 406h17v17h-17zM676 422h17v17h-17zM772 422h17v17h-17zM500 486h17v17h-17zM388 582h17v17h-17zM372 614h17v17h-17zM372 630h17v17h-17zM356 678h17v17h-17zM356 694h17v17h-17zM356 710h17v17h-17zM356 726h17v17h-17zM356 742h17v17h-17zM340 774h17v17h-17zM324 838h17v17h-17zM308 886h17v17h-17zM308 902h17v17h-17zM292 934h17v17h-17zM292 950h17v17h-17zM292 966h17v17h-17zM292 982h17v17h-17z" fill="#f1d800"/>
<path d="M884 374h17v17h-17zM644 406h17v17h-17zM532 470h17v17h-17zM404 566h17v17h-17zM388 598h17v17h-17zM388 614h17v17h-17zM372 678h17v17h-17zM372 694h17v17h-17zM372 710h17v17h-17zM372 726h17v17h-17zM372 742h17v17h-17zM356 774h17v17h-17zM340 822h17v17h-17zM324 886h17v17h-17zM324 902h17v17h-17zM308 950h17v17h-17zM308 966h17v17h-17zM308 982h17v17h-17z" fill="#f8d700"/>
<path d="M900 374h17v17h-17zM916 374h17v17h-17zM932 374h17v17h-17zM836 390h17v17h-17zM820 406h17v17h-17zM788 422h17v17h-17zM564 438h17v17h-17zM404 582h17v17h-17zM404 598h17v17h-17zM388 630h17v17h-17zM388 646h17v17h-17zM420 646h17v17h-17zM436 646h17v17h-17zM388 662h17v17h-17zM420 662h17v17h-17zM436 662h17v17h-17zM420 678h17v17h-17zM436 678h17v17h-17zM436 694h17v17h-17zM372 758h17v17h-17zM356 790h17v17h-17zM356 806h17v17h-17zM340 838h17v17h-17zM340 854h17v17h-17zM340 870h17v17h-17zM324 918h17v17h-17zM324 934h17v17h-17zM324 950h17v17h-17zM324 966h17v17h-17zM324 982h17v17h-17z" fill="#fcd600"/>
<path d="M52 390h17v17h-17zM68 390h17v17h-17zM84 390h17v17h-17zM132 470h17v17h-17z" fill="#00dfb0"/>
<path d="M116 390h17v17h-17zM132 422h17v17h-17zM148 470h17v17h-17zM116 582h17v17h-17z" fill="#00ee99"/>
<path d="M596 390h17v17h-17zM500 454h17v17h-17zM356 550h17v17h-17zM324 630h17v17h-17zM308 710h17v17h-17zM292 758h17v17h-17zM276 790h17v17h-17zM260 854h17v17h-17zM260 870h17v17h-17z" fill="#cce200"/>
<path d="M612 390h17v17h-17zM788 406h17v17h-17zM436 470h17v17h-17zM340 582h17v17h-17zM324 662h17v17h-17zM308 742h17v17h-17zM276 822h17v17h-17zM260 934h17v17h-17zM260 950h17v17h-17zM260 966h17v17h-17zM260 982h17v17h-17z" fill="#d3e000"/>
<path d="M628 390h17v17h-17zM564 422h17v17h-17zM500 470h17v17h-17zM356 582h17v17h-17zM340 614h17v17h-17zM324 726h17v17h-17zM324 742h17v17h-17zM292 822h17v17h-17zM276 886h17v17h-17zM276 902h17v17h-17z" fill="#dddd00"/>
<path d="M724 390h17v17h-17zM404 422h17v17h-17zM308 518h17v17h-17zM276 614h17v17h-17zM260 694h17v17h-17zM196 854h17v17h-17zM196 870h17v17h-17zM196 886h17v17h-17zM196 902h17v17h-17zM196 918h17v17h-17zM196 934h17v17h-17zM196 950h17v17h-17zM196 966h17v17h-17zM196 982h17v17h-17z" fill="#8bf200"/>
<path d="M804 390h17v17h-17zM548 422h17v17h-17zM484 454h17v17h-17zM420 470h17v17h-17zM388 502h17v17h-17zM324 598h17v17h-17zM292 742h17v17h-17zM260 822h17v17h-17zM244 950h17v17h-17zM244 966h17v17h-17zM244 982h17v17h-17z" fill="#c5e300"/>
<path d="M852 390h17v17h-17zM612 422h17v17h-17zM708 438h17v17h-17zM564 454h17v17h-17zM468 646h17v17h-17zM468 662h17v17h-17zM468 710h17v17h-17zM452 726h17v17h-17zM436 742h17v17h-17zM420 758h17v17h-17zM404 790h17v17h-17zM388 838h17v17h-17zM388 854h17v17h-17zM388 870h17v17h-17zM388 886h17v17h-17zM372 918h17v17h-17zM372 934h17v17h-17zM372 950h17v17h-17zM372 966h17v17h-17zM372 982h17v17h-17z" fill="#ffc400"/>
<path d="M868 390h17v17h-17zM836 406h17v17h-17zM628 422h17v17h-17zM724 438h17v17h-17zM740 438h17v17h-17zM452 518h17v17h-17zM436 582h17v17h-17zM452 614h17v17h-17zM484 694h17v17h-17zM452 742h17v17h-17zM436 758h17v17h-17zM420 774h17v17h-17zM404 806h17v17h-17zM404 822h17v17h-17zM388 902h17v17h-17zM388 918h17v17h-17zM388 934h17v17h-17z" fill="#ffc000"/>
<path d="M884 390h17v17h-17zM756 438h17v17h-17zM548 486h17v17h-17zM436 534h17v17h-17zM436 566h17v17h-17zM452 598h17v17h-17zM484 646h17v17h-17zM468 742h17v17h-17zM452 758h17v17h-17zM436 774h17v17h-17zM420 806h17v17h-17zM404 854h17v17h-17zM404 870h17v17h-17zM404 886h17v17h-17z" fill="#ffb700"/>
<path d="M900 390h17v17h-17zM916 390h17v17h-17zM932 390h17v17h-17zM852 406h17v17h-17zM564 470h17v17h-17zM484 518h17v17h-17zM484 726h17v17h-17zM436 790h17v17h-17zM420 822h17v17h-17zM404 902h17v17h-17zM404 918h17v17h-17z" fill="#ffb300"/>
<path d="M100 406h17v17h-17zM100 566h17v17h-17z" fill="#00ddb3"/>
<path d="M596 406h17v17h-17zM756 422h17v17h-17zM516 470h17v17h-17zM452 486h17v17h-17zM468 486h17v17h-17zM388 566h17v17h-17zM356 630h17v17h-17zM356 646h17v17h-17zM340 694h17v17h-17zM340 710h17v17h-17zM340 726h17v17h-17zM340 742h17v17h-17zM324 790h17v17h-17zM308 838h17v17h-17zM292 886h17v17h-17zM292 902h17v17h-17z" fill="#ebda00"/>
<path d="M628 406h17v17h-17zM580 422h17v17h-17zM548 454h17v17h-17zM436 502h17v17h-17zM420 518h17v17h-17zM404 550h17v17h-17zM372 646h17v17h-17zM372 662h17v17h-17zM356 758h17v17h-17zM340 790h17v17h-17zM340 806h17v17h-17zM324 854h17v17h-17zM324 870h17v17h-17zM308 918h17v17h-17zM308 934h17v17h-17z" fill="#f5d800"/>
<path d="M660 406h17v17h-17zM692 422h17v17h-17zM708 422h17v17h-17zM548 438h17v17h-17zM532 454h17v17h-17zM436 486h17v17h-17zM388 550h17v17h-17zM356 598h17v17h-17zM340 646h17v17h-17zM340 662h17v17h-17zM324 774h17v17h-17zM308 806h17v17h-17zM292 838h17v17h-17zM292 854h17v17h-17zM276 950h17v17h-17zM276 966h17v17h-17zM276 982h17v17h-17z" fill="#e4dc00"/>
<path d="M724 406h17v17h-17zM532 422h17v17h-17zM500 438h17v17h-17zM340 534h17v17h-17zM308 614h17v17h-17zM292 694h17v17h-17zM276 742h17v17h-17zM244 790h17v17h-17z" fill="#b4e700"/>
<path d="M868 406h17v17h-17zM836 422h17v17h-17zM660 438h17v17h-17zM580 454h17v17h-17zM692 454h17v17h-17zM500 518h17v17h-17zM484 630h17v17h-17zM500 678h17v17h-17zM500 694h17v17h-17zM468 758h17v17h-17zM436 822h17v17h-17zM420 854h17v17h-17zM420 870h17v17h-17z" fill="#ffaa00"/>
<path d="M884 406h17v17h-17zM788 438h17v17h-17zM708 454h17v17h-17zM564 486h17v17h-17zM452 534h17v17h-17zM452 566h17v17h-17zM500 662h17v17h-17zM500 710h17v17h-17zM452 790h17v17h-17zM420 886h17v17h-17z" fill="#ffa600"/>
<path d="M900 406h17v17h-17zM916 406h17v17h-17zM932 406h17v17h-17zM852 422h17v17h-17zM596 438h17v17h-17zM612 438h17v17h-17zM804 438h17v17h-17zM724 454h17v17h-17zM740 454h17v17h-17zM548 502h17v17h-17zM516 518h17v17h-17zM452 550h17v17h-17zM468 598h17v17h-17zM500 646h17v17h-17zM500 726h17v17h-17zM484 758h17v17h-17zM468 774h17v17h-17zM452 806h17v17h-17zM436 838h17v17h-17zM420 902h17v17h-17zM420 918h17v17h-17z" fill="#ffa200"/>
<path d="M596 422h17v17h-17zM804 422h17v17h-17zM692 438h17v17h-17zM532 486h17v17h-17zM500 502h17v17h-17zM420 550h17v17h-17zM436 598h17v17h-17zM452 630h17v17h-17zM468 678h17v17h-17zM468 694h17v17h-17zM420 742h17v17h-17zM404 758h17v17h-17zM404 774h17v17h-17zM388 806h17v17h-17zM388 822h17v17h-17zM372 870h17v17h-17zM372 886h17v17h-17zM372 902h17v17h-17z" fill="#ffc800"/>
<path d="M644 422h17v17h-17zM820 422h17v17h-17zM580 438h17v17h-17zM676 438h17v17h-17zM516 502h17v17h-17zM468 518h17v17h-17zM468 630h17v17h-17zM484 662h17v17h-17zM484 678h17v17h-17zM484 710h17v17h-17zM468 726h17v17h-17zM420 790h17v17h-17zM404 838h17v17h-17zM388 950h17v17h-17zM388 966h17v17h-17zM388 982h17v17h-17z" fill="#ffbb00"/>
<path d="M660 422h17v17h-17zM484 502h17v17h-17zM420 534h17v17h-17zM420 598h17v17h-17zM420 614h17v17h-17zM436 614h17v17h-17zM452 646h17v17h-17zM452 662h17v17h-17zM452 678h17v17h-17zM452 694h17v17h-17zM420 710h17v17h-17zM436 710h17v17h-17zM404 726h17v17h-17zM388 758h17v17h-17zM372 790h17v17h-17zM372 806h17v17h-17zM372 822h17v17h-17zM356 854h17v17h-17zM356 870h17v17h-17zM356 886h17v17h-17zM340 934h17v17h-17zM340 950h17v17h-17zM340 966h17v17h-17zM340 982h17v17h-17z" fill="#ffd100"/>
<path d="M868 422h17v17h-17zM628 438h17v17h-17zM644 438h17v17h-17zM676 454h17v17h-17zM756 454h17v17h-17zM580 470h17v17h-17zM468 534h17v17h-17zM500 742h17v17h-17zM436 854h17v17h-17zM436 870h17v17h-17zM420 934h17v17h-17zM420 950h17v17h-17zM420 966h17v17h-17zM420 982h17v17h-17z" fill="#ff9e00"/>
<path d="M884 422h17v17h-17zM900 422h17v17h-17zM916 422h17v17h-17zM932 422h17v17h-17zM820 438h17v17h-17zM772 454h17v17h-17zM532 518h17v17h-17zM468 582h17v17h-17zM484 614h17v17h-17zM468 790h17v17h-17zM452 822h17v17h-17zM436 886h17v17h-17z" fill="#ff9900"/>
<path d="M52 438h17v17h-17zM68 438h17v17h-17zM84 438h17v17h-17zM100 486h17v17h-17zM100 502h17v17h-17zM100 518h17v17h-17z" fill="#00c9d1"/>
<path d="M116 438h17v17h-17zM132 550h17v17h-17z" fill="#00dbb5"/>
<path d="M772 438h17v17h-17zM532 502h17v17h-17zM436 550h17v17h-17zM452 582h17v17h-17zM468 614h17v17h-17zM484 742h17v17h-17zM452 774h17v17h-17zM436 806h17v17h-17zM420 838h17v17h-17zM404 934h17v17h-17zM404 950h17v17h-17zM404 966h17v17h-17zM404 982h17v17h-17z" fill="#ffaf00"/>
<path d="M836 438h17v17h-17zM660 454h17v17h-17zM564 502h17v17h-17zM484 534h17v17h-17zM468 550h17v17h-17zM468 566h17v17h-17zM500 630h17v17h-17zM484 774h17v17h-17zM452 838h17v17h-17zM436 902h17v17h-17z" fill="#ff9500"/>
<path d="M852 438h17v17h-17zM596 454h17v17h-17zM788 454h17v17h-17zM804 454h17v17h-17zM692 470h17v17h-17zM708 470h17v17h-17zM580 486h17v17h-17zM500 534h17v17h-17zM516 694h17v17h-17zM500 758h17v17h-17zM468 806h17v17h-17zM452 854h17v17h-17zM436 918h17v17h-17z" fill="#ff9100"/>
<path d="M868 438h17v17h-17zM884 438h17v17h-17zM900 438h17v17h-17zM916 438h17v17h-17zM932 438h17v17h-17zM612 454h17v17h-17zM628 454h17v17h-17zM820 454h17v17h-17zM724 470h17v17h-17zM740 470h17v17h-17zM756 470h17v17h-17zM548 518h17v17h-17zM516 678h17v17h-17zM516 710h17v17h-17zM468 822h17v17h-17zM452 870h17v17h-17zM436 934h17v17h-17zM436 950h17v17h-17zM436 966h17v17h-17zM436 982h17v17h-17z" fill="#ff8d00"/>
<path d="M52 454h17v17h-17zM68 454h17v17h-17zM84 454h17v17h-17zM52 534h17v17h-17zM68 534h17v17h-17zM84 534h17v17h-17z" fill="#00c7d4"/>
<path d="M100 454h17v17h-17z" fill="#00cccc"/>
<path d="M116 454h17v17h-17zM132 502h17v17h-17z" fill="#00d8ba"/>
<path d="M644 454h17v17h-17zM836 454h17v17h-17zM852 454h17v17h-17zM868 454h17v17h-17zM596 470h17v17h-17zM676 470h17v17h-17zM772 470h17v17h-17zM788 470h17v17h-17zM516 534h17v17h-17zM484 550h17v17h-17zM484 566h17v17h-17zM484 598h17v17h-17zM500 614h17v17h-17zM516 646h17v17h-17zM516 662h17v17h-17zM516 726h17v17h-17zM484 790h17v17h-17zM468 838h17v17h-17zM452 886h17v17h-17z" fill="#ff8800"/>
<path d="M884 454h17v17h-17zM900 454h17v17h-17zM916 454h17v17h-17zM932 454h17v17h-17zM612 470h17v17h-17zM804 470h17v17h-17zM820 470h17v17h-17zM836 470h17v17h-17zM852 470h17v17h-17zM580 502h17v17h-17zM484 582h17v17h-17zM516 742h17v17h-17zM500 774h17v17h-17zM484 806h17v17h-17zM468 854h17v17h-17zM452 902h17v17h-17z" fill="#ff8400"/>
<path d="M116 470h17v17h-17z" fill="#00d4c0"/>
<path d="M548 470h17v17h-17zM436 518h17v17h-17zM420 566h17v17h-17zM420 582h17v17h-17zM452 710h17v17h-17zM420 726h17v17h-17zM436 726h17v17h-17zM404 742h17v17h-17zM388 774h17v17h-17zM388 790h17v17h-17zM372 838h17v17h-17zM372 854h17v17h-17zM356 902h17v17h-17zM356 918h17v17h-17zM356 934h17v17h-17zM356 950h17v17h-17zM356 966h17v17h-17zM356 982h17v17h-17z" fill="#ffcc00"/>
<path d="M628 470h17v17h-17zM740 486h17v17h-17zM756 486h17v17h-17zM772 486h17v17h-17zM788 486h17v17h-17zM804 486h17v17h-17zM820 486h17v17h-17zM836 486h17v17h-17zM852 486h17v17h-17zM868 486h17v17h-17zM884 486h17v17h-17zM516 758h17v17h-17zM484 822h17v17h-17zM468 886h17v17h-17zM452 934h17v17h-17zM452 950h17v17h-17zM452 966h17v17h-17zM452 982h17v17h-17z" fill="#ff7c00"/>
<path d="M644 470h17v17h-17zM612 486h17v17h-17zM692 486h17v17h-17zM708 486h17v17h-17zM724 486h17v17h-17zM900 486h17v17h-17zM916 486h17v17h-17zM932 486h17v17h-17zM596 502h17v17h-17zM836 502h17v17h-17zM548 534h17v17h-17zM516 550h17v17h-17zM500 566h17v17h-17zM500 598h17v17h-17zM500 790h17v17h-17zM484 838h17v17h-17zM468 902h17v17h-17z" fill="#ff7700"/>
<path d="M660 470h17v17h-17zM868 470h17v17h-17zM884 470h17v17h-17zM900 470h17v17h-17zM916 470h17v17h-17zM932 470h17v17h-17zM596 486h17v17h-17zM564 518h17v17h-17zM532 534h17v17h-17zM500 550h17v17h-17zM516 630h17v17h-17zM468 870h17v17h-17zM452 918h17v17h-17z" fill="#ff8000"/>
<path d="M52 486h17v17h-17zM68 486h17v17h-17zM84 486h17v17h-17zM52 502h17v17h-17zM68 502h17v17h-17zM84 502h17v17h-17z" fill="#00c4d9"/>
<path d="M132 486h17v17h-17zM52 566h17v17h-17zM68 566h17v17h-17zM84 566h17v17h-17z" fill="#00dab8"/>
<path d="M484 486h17v17h-17zM404 534h17v17h-17zM372 598h17v17h-17zM356 662h17v17h-17zM340 758h17v17h-17zM324 806h17v17h-17zM324 822h17v17h-17zM308 854h17v17h-17zM308 870h17v17h-17zM292 918h17v17h-17z" fill="#eed900"/>
<path d="M516 486h17v17h-17zM452 502h17v17h-17zM468 502h17v17h-17zM404 614h17v17h-17zM404 630h17v17h-17zM420 630h17v17h-17zM436 630h17v17h-17zM404 646h17v17h-17zM404 662h17v17h-17zM388 678h17v17h-17zM404 678h17v17h-17zM388 694h17v17h-17zM404 694h17v17h-17zM420 694h17v17h-17zM388 710h17v17h-17zM404 710h17v17h-17zM388 726h17v17h-17zM388 742h17v17h-17zM372 774h17v17h-17zM356 822h17v17h-17zM356 838h17v17h-17zM340 886h17v17h-17zM340 902h17v17h-17zM340 918h17v17h-17z" fill="#ffd500"/>
<path d="M628 486h17v17h-17zM724 502h17v17h-17zM740 502h17v17h-17zM756 502h17v17h-17zM772 502h17v17h-17zM564 534h17v17h-17zM532 550h17v17h-17zM516 566h17v17h-17zM532 662h17v17h-17zM532 726h17v17h-17zM532 742h17v17h-17zM500 822h17v17h-17zM484 870h17v17h-17zM468 918h17v17h-17z" fill="#ff6f00"/>
<path d="M644 486h17v17h-17zM676 502h17v17h-17zM708 518h17v17h-17zM724 518h17v17h-17zM740 518h17v17h-17zM580 534h17v17h-17zM548 550h17v17h-17zM532 566h17v17h-17zM532 630h17v17h-17zM532 758h17v17h-17zM500 854h17v17h-17zM484 902h17v17h-17z" fill="#ff6600"/>
<path d="M660 486h17v17h-17zM612 502h17v17h-17zM692 502h17v17h-17zM708 502h17v17h-17zM596 518h17v17h-17zM756 518h17v17h-17zM772 518h17v17h-17zM788 518h17v17h-17zM804 518h17v17h-17zM820 518h17v17h-17zM836 518h17v17h-17zM852 518h17v17h-17zM868 518h17v17h-17zM884 518h17v17h-17zM900 518h17v17h-17zM916 518h17v17h-17zM932 518h17v17h-17zM516 582h17v17h-17zM516 598h17v17h-17zM532 646h17v17h-17zM516 790h17v17h-17zM500 838h17v17h-17zM484 886h17v17h-17zM468 934h17v17h-17zM468 950h17v17h-17zM468 966h17v17h-17zM468 982h17v17h-17z" fill="#ff6a00"/>
<path d="M676 486h17v17h-17zM788 502h17v17h-17zM804 502h17v17h-17zM820 502h17v17h-17zM852 502h17v17h-17zM868 502h17v17h-17zM884 502h17v17h-17zM900 502h17v17h-17zM916 502h17v17h-17zM932 502h17v17h-17zM580 518h17v17h-17zM500 582h17v17h-17zM516 614h17v17h-17zM532 678h17v17h-17zM532 694h17v17h-17zM532 710h17v17h-17zM516 774h17v17h-17zM500 806h17v17h-17zM484 854h17v17h-17z" fill="#ff7300"/>
<path d="M628 502h17v17h-17zM660 502h17v17h-17zM612 518h17v17h-17zM692 518h17v17h-17zM740 534h17v17h-17zM756 534h17v17h-17zM772 534h17v17h-17zM788 534h17v17h-17zM804 534h17v17h-17zM820 534h17v17h-17zM836 534h17v17h-17zM852 534h17v17h-17zM868 534h17v17h-17zM884 534h17v17h-17zM900 534h17v17h-17zM916 534h17v17h-17zM932 534h17v17h-17zM564 550h17v17h-17zM532 614h17v17h-17zM516 806h17v17h-17zM500 870h17v17h-17zM484 918h17v17h-17z" fill="#ff6200"/>
<path d="M644 502h17v17h-17zM628 518h17v17h-17zM660 518h17v17h-17zM676 518h17v17h-17zM596 534h17v17h-17zM692 534h17v17h-17zM708 534h17v17h-17zM724 534h17v17h-17zM740 550h17v17h-17zM756 550h17v17h-17zM772 550h17v17h-17zM788 550h17v17h-17zM804 550h17v17h-17zM820 550h17v17h-17zM836 550h17v17h-17zM852 550h17v17h-17zM868 550h17v17h-17zM884 550h17v17h-17zM900 550h17v17h-17zM916 550h17v17h-17zM932 550h17v17h-17zM548 566h17v17h-17zM532 582h17v17h-17zM548 694h17v17h-17zM548 710h17v17h-17zM532 774h17v17h-17zM516 822h17v17h-17zM500 886h17v17h-17zM484 934h17v17h-17z" fill="#ff5e00"/>
<path d="M644 518h17v17h-17zM612 534h17v17h-17zM676 534h17v17h-17zM580 550h17v17h-17zM692 550h17v17h-17zM708 550h17v17h-17zM724 550h17v17h-17zM564 566h17v17h-17zM724 566h17v17h-17zM740 566h17v17h-17zM756 566h17v17h-17zM772 566h17v17h-17zM788 566h17v17h-17zM804 566h17v17h-17zM820 566h17v17h-17zM836 566h17v17h-17zM852 566h17v17h-17zM868 566h17v17h-17zM884 566h17v17h-17zM900 566h17v17h-17zM916 566h17v17h-17zM932 566h17v17h-17zM532 598h17v17h-17zM548 662h17v17h-17zM548 678h17v17h-17zM548 726h17v17h-17zM548 742h17v17h-17zM532 790h17v17h-17zM516 838h17v17h-17zM516 854h17v17h-17zM500 902h17v17h-17zM484 950h17v17h-17zM484 966h17v17h-17zM484 982h17v17h-17z" fill="#ff5900"/>
<path d="M628 534h17v17h-17zM644 534h17v17h-17zM660 534h17v17h-17zM596 550h17v17h-17zM612 550h17v17h-17zM676 550h17v17h-17zM580 566h17v17h-17zM692 566h17v17h-17zM708 566h17v17h-17zM548 582h17v17h-17zM724 582h17v17h-17zM740 582h17v17h-17zM756 582h17v17h-17zM772 582h17v17h-17zM788 582h17v17h-17zM804 582h17v17h-17zM820 582h17v17h-17zM836 582h17v17h-17zM852 582h17v17h-17zM868 582h17v17h-17zM884 582h17v17h-17zM900 582h17v17h-17zM916 582h17v17h-17zM932 582h17v17h-17zM740 598h17v17h-17zM756 598h17v17h-17zM772 598h17v17h-17zM788 598h17v17h-17zM804 598h17v17h-17zM820 598h17v17h-17zM836 598h17v17h-17zM852 598h17v17h-17zM868 598h17v17h-17zM884 598h17v17h-17zM900 598h17v17h-17zM916 598h17v17h-17zM932 598h17v17h-17zM548 630h17v17h-17zM548 646h17v17h-17zM548 758h17v17h-17zM532 806h17v17h-17zM516 870h17v17h-17zM500 918h17v17h-17z" fill="#ff5500"/>
<path d="M52 550h17v17h-17zM68 550h17v17h-17zM84 550h17v17h-17z" fill="#00ceca"/>
<path d="M628 550h17v17h-17zM644 550h17v17h-17zM660 550h17v17h-17zM596 566h17v17h-17zM612 566h17v17h-17zM660 566h17v17h-17zM676 566h17v17h-17zM564 582h17v17h-17zM692 582h17v17h-17zM708 582h17v17h-17zM548 598h17v17h-17zM724 598h17v17h-17zM548 614h17v17h-17zM740 614h17v17h-17zM756 614h17v17h-17zM772 614h17v17h-17zM788 614h17v17h-17zM804 614h17v17h-17zM820 614h17v17h-17zM836 614h17v17h-17zM852 614h17v17h-17zM868 614h17v17h-17zM884 614h17v17h-17zM900 614h17v17h-17zM916 614h17v17h-17zM932 614h17v17h-17zM564 662h17v17h-17zM564 678h17v17h-17zM564 694h17v17h-17zM564 710h17v17h-17zM564 726h17v17h-17zM548 774h17v17h-17zM532 822h17v17h-17zM516 886h17v17h-17zM516 902h17v17h-17zM500 934h17v17h-17zM644 950h17v17h-17zM644 966h17v17h-17zM644 982h17v17h-17z" fill="#ff5100"/>
<path d="M628 566h17v17h-17zM644 566h17v17h-17zM580 582h17v17h-17zM596 582h17v17h-17zM612 582h17v17h-17zM628 582h17v17h-17zM660 582h17v17h-17zM676 582h17v17h-17zM564 598h17v17h-17zM692 598h17v17h-17zM708 598h17v17h-17zM564 614h17v17h-17zM724 614h17v17h-17zM564 630h17v17h-17zM740 630h17v17h-17zM756 630h17v17h-17zM772 630h17v17h-17zM788 630h17v17h-17zM804 630h17v17h-17zM820 630h17v17h-17zM836 630h17v17h-17zM852 630h17v17h-17zM868 630h17v17h-17zM884 630h17v17h-17zM900 630h17v17h-17zM916 630h17v17h-17zM932 630h17v17h-17zM564 646h17v17h-17zM740 646h17v17h-17zM756 646h17v17h-17zM772 646h17v17h-17zM788 646h17v17h-17zM804 646h17v17h-17zM820 646h17v17h-17zM836 646h17v17h-17zM852 646h17v17h-17zM868 646h17v17h-17zM884 646h17v17h-17zM900 646h17v17h-17zM916 646h17v17h-17zM932 646h17v17h-17zM564 742h17v17h-17zM564 758h17v17h-17zM548 790h17v17h-17zM532 838h17v17h-17zM532 854h17v17h-17zM516 918h17v17h-17zM644 934h17v17h-17zM660 934h17v17h-17zM500 950h17v17h-17zM628 950h17v17h-17zM660 950h17v17h-17zM676 950h17v17h-17zM500 966h17v17h-17zM628 966h17v17h-17zM660 966h17v17h-17zM676 966h17v17h-17zM500 982h17v17h-17zM628 982h17v17h-17zM660 982h17v17h-17zM676 982h17v17h-17z" fill="#ff4d00"/>
<path d="M644 582h17v17h-17zM580 598h17v17h-17zM596 598h17v17h-17zM612 598h17v17h-17zM628 598h17v17h-17zM644 598h17v17h-17zM660 598h17v17h-17zM676 598h17v17h-17zM580 614h17v17h-17zM676 614h17v17h-17zM692 614h17v17h-17zM708 614h17v17h-17zM580 630h17v17h-17zM708 630h17v17h-17zM724 630h17v17h-17zM724 646h17v17h-17zM740 662h17v17h-17zM756 662h17v17h-17zM772 662h17v17h-17zM788 662h17v17h-17zM804 662h17v17h-17zM820 662h17v17h-17zM836 662h17v17h-17zM852 662h17v17h-17zM868 662h17v17h-17zM884 662h17v17h-17zM900 662h17v17h-17zM916 662h17v17h-17zM932 662h17v17h-17zM564 774h17v17h-17zM548 806h17v17h-17zM532 870h17v17h-17zM532 886h17v17h-17zM644 918h17v17h-17zM516 934h17v17h-17zM628 934h17v17h-17zM676 934h17v17h-17zM516 950h17v17h-17zM692 950h17v17h-17zM516 966h17v17h-17zM692 966h17v17h-17zM516 982h17v17h-17zM692 982h17v17h-17z" fill="#ff4800"/>
<path d="M596 614h17v17h-17zM612 614h17v17h-17zM628 614h17v17h-17zM644 614h17v17h-17zM660 614h17v17h-17zM660 630h17v17h-17zM676 630h17v17h-17zM692 630h17v17h-17zM580 646h17v17h-17zM708 646h17v17h-17zM580 662h17v17h-17zM724 662h17v17h-17zM580 678h17v17h-17zM740 678h17v17h-17zM756 678h17v17h-17zM772 678h17v17h-17zM788 678h17v17h-17zM804 678h17v17h-17zM820 678h17v17h-17zM836 678h17v17h-17zM852 678h17v17h-17zM868 678h17v17h-17zM884 678h17v17h-17zM900 678h17v17h-17zM916 678h17v17h-17zM932 678h17v17h-17zM580 694h17v17h-17zM580 710h17v17h-17zM580 726h17v17h-17zM580 742h17v17h-17zM564 790h17v17h-17zM548 822h17v17h-17zM548 838h17v17h-17zM532 902h17v17h-17zM532 918h17v17h-17zM628 918h17v17h-17zM660 918h17v17h-17zM676 918h17v17h-17zM612 934h17v17h-17zM692 934h17v17h-17zM708 934h17v17h-17zM612 950h17v17h-17zM708 950h17v17h-17zM612 966h17v17h-17zM708 966h17v17h-17zM612 982h17v17h-17zM708 982h17v17h-17z" fill="#ff4400"/>
<path d="M596 630h17v17h-17zM612 630h17v17h-17zM628 630h17v17h-17zM644 630h17v17h-17zM596 646h17v17h-17zM612 646h17v17h-17zM628 646h17v17h-17zM644 646h17v17h-17zM660 646h17v17h-17zM676 646h17v17h-17zM692 646h17v17h-17zM596 662h17v17h-17zM612 662h17v17h-17zM628 662h17v17h-17zM644 662h17v17h-17zM660 662h17v17h-17zM676 662h17v17h-17zM692 662h17v17h-17zM708 662h17v17h-17zM708 678h17v17h-17zM724 678h17v17h-17zM724 694h17v17h-17zM740 694h17v17h-17zM756 694h17v17h-17zM772 694h17v17h-17zM788 694h17v17h-17zM804 694h17v17h-17zM820 694h17v17h-17zM836 694h17v17h-17zM852 694h17v17h-17zM868 694h17v17h-17zM884 694h17v17h-17zM900 694h17v17h-17zM916 694h17v17h-17zM932 694h17v17h-17zM740 710h17v17h-17zM756 710h17v17h-17zM772 710h17v17h-17zM788 710h17v17h-17zM804 710h17v17h-17zM820 710h17v17h-17zM836 710h17v17h-17zM852 710h17v17h-17zM868 710h17v17h-17zM884 710h17v17h-17zM900 710h17v17h-17zM916 710h17v17h-17zM932 710h17v17h-17zM580 758h17v17h-17zM580 774h17v17h-17zM564 806h17v17h-17zM564 822h17v17h-17zM564 838h17v17h-17zM548 854h17v17h-17zM564 854h17v17h-17zM548 870h17v17h-17zM548 886h17v17h-17zM548 902h17v17h-17zM644 902h17v17h-17zM660 902h17v17h-17zM612 918h17v17h-17zM692 918h17v17h-17zM708 918h17v17h-17zM532 934h17v17h-17zM724 934h17v17h-17zM532 950h17v17h-17zM724 950h17v17h-17zM532 966h17v17h-17zM724 966h17v17h-17zM532 982h17v17h-17zM724 982h17v17h-17z" fill="#ff4000"/>
<path d="M596 678h17v17h-17zM612 678h17v17h-17zM628 678h17v17h-17zM644 678h17v17h-17zM660 678h17v17h-17zM676 678h17v17h-17zM692 678h17v17h-17zM596 694h17v17h-17zM612 694h17v17h-17zM628 694h17v17h-17zM644 694h17v17h-17zM660 694h17v17h-17zM676 694h17v17h-17zM692 694h17v17h-17zM708 694h17v17h-17zM596 710h17v17h-17zM612 710h17v17h-17zM628 710h17v17h-17zM644 710h17v17h-17zM660 710h17v17h-17zM676 710h17v17h-17zM692 710h17v17h-17zM708 710h17v17h-17zM724 710h17v17h-17zM596 726h17v17h-17zM612 726h17v17h-17zM628 726h17v17h-17zM708 726h17v17h-17zM724 726h17v17h-17zM740 726h17v17h-17zM756 726h17v17h-17zM772 726h17v17h-17zM788 726h17v17h-17zM804 726h17v17h-17zM820 726h17v17h-17zM836 726h17v17h-17zM852 726h17v17h-17zM868 726h17v17h-17zM884 726h17v17h-17zM900 726h17v17h-17zM916 726h17v17h-17zM932 726h17v17h-17zM596 742h17v17h-17zM612 742h17v17h-17zM724 742h17v17h-17zM740 742h17v17h-17zM756 742h17v17h-17zM772 742h17v17h-17zM788 742h17v17h-17zM804 742h17v17h-17zM820 742h17v17h-17zM836 742h17v17h-17zM852 742h17v17h-17zM868 742h17v17h-17zM884 742h17v17h-17zM900 742h17v17h-17zM916 742h17v17h-17zM932 742h17v17h-17zM596 758h17v17h-17zM740 758h17v17h-17zM756 758h17v17h-17zM772 758h17v17h-17zM788 758h17v17h-17zM804 758h17v17h-17zM820 758h17v17h-17zM836 758h17v17h-17zM852 758h17v17h-17zM868 758h17v17h-17zM884 758h17v17h-17zM900 758h17v17h-17zM916 758h17v17h-17zM932 758h17v17h-17zM580 790h17v17h-17zM580 806h17v17h-17zM580 822h17v17h-17zM580 838h17v17h-17zM580 854h17v17h-17zM564 870h17v17h-17zM580 870h17v17h-17zM644 870h17v17h-17zM564 886h17v17h-17zM580 886h17v17h-17zM628 886h17v17h-17zM644 886h17v17h-17zM660 886h17v17h-17zM564 902h17v17h-17zM580 902h17v17h-17zM612 902h17v17h-17zM628 902h17v17h-17zM676 902h17v17h-17zM692 902h17v17h-17zM708 902h17v17h-17zM548 918h17v17h-17zM564 918h17v17h-17zM580 918h17v17h-17zM596 918h17v17h-17zM724 918h17v17h-17zM740 918h17v17h-17zM548 934h17v17h-17zM564 934h17v17h-17zM580 934h17v17h-17zM596 934h17v17h-17zM740 934h17v17h-17zM756 934h17v17h-17zM548 950h17v17h-17zM564 950h17v17h-17zM580 950h17v17h-17zM596 950h17v17h-17zM740 950h17v17h-17zM756 950h17v17h-17zM548 966h17v17h-17zM564 966h17v17h-17zM580 966h17v17h-17zM596 966h17v17h-17zM740 966h17v17h-17zM756 966h17v17h-17zM548 982h17v17h-17zM564 982h17v17h-17zM580 982h17v17h-17zM596 982h17v17h-17zM740 982h17v17h-17zM756 982h17v17h-17z" fill="#ff3c00"/>
<path d="M644 726h17v17h-17zM660 726h17v17h-17zM676 726h17v17h-17zM692 726h17v17h-17zM628 742h17v17h-17zM644 742h17v17h-17zM660 742h17v17h-17zM676 742h17v17h-17zM692 742h17v17h-17zM708 742h17v17h-17zM612 758h17v17h-17zM628 758h17v17h-17zM644 758h17v17h-17zM660 758h17v17h-17zM676 758h17v17h-17zM692 758h17v17h-17zM708 758h17v17h-17zM724 758h17v17h-17zM596 774h17v17h-17zM612 774h17v17h-17zM628 774h17v17h-17zM644 774h17v17h-17zM660 774h17v17h-17zM676 774h17v17h-17zM708 774h17v17h-17zM724 774h17v17h-17zM740 774h17v17h-17zM756 774h17v17h-17zM772 774h17v17h-17zM788 774h17v17h-17zM804 774h17v17h-17zM820 774h17v17h-17zM836 774h17v17h-17zM852 774h17v17h-17zM868 774h17v17h-17zM884 774h17v17h-17zM900 774h17v17h-17zM916 774h17v17h-17zM932 774h17v17h-17zM596 790h17v17h-17zM612 790h17v17h-17zM628 790h17v17h-17zM644 790h17v17h-17zM660 790h17v17h-17zM724 790h17v17h-17zM740 790h17v17h-17zM756 790h17v17h-17zM772 790h17v17h-17zM788 790h17v17h-17zM804 790h17v17h-17zM820 790h17v17h-17zM836 790h17v17h-17zM852 790h17v17h-17zM868 790h17v17h-17zM884 790h17v17h-17zM900 790h17v17h-17zM916 790h17v17h-17zM932 790h17v17h-17zM596 806h17v17h-17zM612 806h17v17h-17zM628 806h17v17h-17zM644 806h17v17h-17zM660 806h17v17h-17zM724 806h17v17h-17zM740 806h17v17h-17zM756 806h17v17h-17zM772 806h17v17h-17zM788 806h17v17h-17zM804 806h17v17h-17zM820 806h17v17h-17zM836 806h17v17h-17zM852 806h17v17h-17zM868 806h17v17h-17zM884 806h17v17h-17zM900 806h17v17h-17zM916 806h17v17h-17zM932 806h17v17h-17zM596 822h17v17h-17zM612 822h17v17h-17zM628 822h17v17h-17zM644 822h17v17h-17zM660 822h17v17h-17zM724 822h17v17h-17zM740 822h17v17h-17zM756 822h17v17h-17zM772 822h17v17h-17zM788 822h17v17h-17zM804 822h17v17h-17zM820 822h17v17h-17zM836 822h17v17h-17zM852 822h17v17h-17zM868 822h17v17h-17zM884 822h17v17h-17zM900 822h17v17h-17zM916 822h17v17h-17zM932 822h17v17h-17zM596 838h17v17h-17zM612 838h17v17h-17zM628 838h17v17h-17zM644 838h17v17h-17zM660 838h17v17h-17zM724 838h17v17h-17zM740 838h17v17h-17zM756 838h17v17h-17zM772 838h17v17h-17zM788 838h17v17h-17zM804 838h17v17h-17zM820 838h17v17h-17zM836 838h17v17h-17zM852 838h17v17h-17zM868 838h17v17h-17zM884 838h17v17h-17zM900 838h17v17h-17zM916 838h17v17h-17zM932 838h17v17h-17zM596 854h17v17h-17zM612 854h17v17h-17zM628 854h17v17h-17zM644 854h17v17h-17zM660 854h17v17h-17zM676 854h17v17h-17zM724 854h17v17h-17zM740 854h17v17h-17zM756 854h17v17h-17zM772 854h17v17h-17zM788 854h17v17h-17zM804 854h17v17h-17zM820 854h17v17h-17zM836 854h17v17h-17zM852 854h17v17h-17zM868 854h17v17h-17zM884 854h17v17h-17zM900 854h17v17h-17zM916 854h17v17h-17zM932 854h17v17h-17zM596 870h17v17h-17zM612 870h17v17h-17zM628 870h17v17h-17zM660 870h17v17h-17zM676 870h17v17h-17zM692 870h17v17h-17zM708 870h17v17h-17zM724 870h17v17h-17zM740 870h17v17h-17zM756 870h17v17h-17zM772 870h17v17h-17zM788 870h17v17h-17zM804 870h17v17h-17zM820 870h17v17h-17zM836 870h17v17h-17zM852 870h17v17h-17zM868 870h17v17h-17zM884 870h17v17h-17zM900 870h17v17h-17zM916 870h17v17h-17zM932 870h17v17h-17zM596 886h17v17h-17zM612 886h17v17h-17zM676 886h17v17h-17zM692 886h17v17h-17zM708 886h17v17h-17zM724 886h17v17h-17zM740 886h17v17h-17zM756 886h17v17h-17zM772 886h17v17h-17zM788 886h17v17h-17zM804 886h17v17h-17zM820 886h17v17h-17zM836 886h17v17h-17zM852 886h17v17h-17zM868 886h17v17h-17zM884 886h17v17h-17zM900 886h17v17h-17zM916 886h17v17h-17zM932 886h17v17h-17zM596 902h17v17h-17zM724 902h17v17h-17zM740 902h17v17h-17zM756 902h17v17h-17zM772 902h17v17h-17zM788 902h17v17h-17zM804 902h17v17h-17zM820 902h17v17h-17zM836 902h17v17h-17zM852 902h17v17h-17zM868 902h17v17h-17zM884 902h17v17h-17zM900 902h17v17h-17zM916 902h17v17h-17zM932 902h17v17h-17zM756 918h17v17h-17zM772 918h17v17h-17zM788 918h17v17h-17zM804 918h17v17h-17zM820 918h17v17h-17zM836 918h17v17h-17zM852 918h17v17h-17zM868 918h17v17h-17zM884 918h17v17h-17zM900 918h17v17h-17zM916 918h17v17h-17zM932 918h17v17h-17zM772 934h17v17h-17zM788 934h17v17h-17zM804 934h17v17h-17zM820 934h17v17h-17zM836 934h17v17h-17zM852 934h17v17h-17zM868 934h17v17h-17zM884 934h17v17h-17zM900 934h17v17h-17zM916 934h17v17h-17zM932 934h17v17h-17zM772 950h17v17h-17zM788 950h17v17h-17zM804 950h17v17h-17zM820 950h17v17h-17zM836 950h17v17h-17zM852 950h17v17h-17zM868 950h17v17h-17zM884 950h17v17h-17zM900 950h17v17h-17zM916 950h17v17h-17zM932 950h17v17h-17zM772 966h17v17h-17zM788 966h17v17h-17zM804 966h17v17h-17zM820 966h17v17h-17zM836 966h17v17h-17zM852 966h17v17h-17zM868 966h17v17h-17zM884 966h17v17h-17zM900 966h17v17h-17zM916 966h17v17h-17zM932 966h17v17h-17zM772 982h17v17h-17zM788 982h17v17h-17zM804 982h17v17h-17zM820 982h17v17h-17zM836 982h17v17h-17zM852 982h17v17h-17zM868 982h17v17h-17zM884 982h17v17h-17zM900 982h17v17h-17zM916 982h17v17h-17zM932 982h17v17h-17z" fill="#ff3700"/>
<path d="M692 774h17v17h-17zM676 790h17v17h-17zM692 790h17v17h-17zM708 790h17v17h-17zM676 806h17v17h-17zM692 806h17v17h-17zM708 806h17v17h-17zM676 822h17v17h-17zM692 822h17v17h-17zM708 822h17v17h-17zM676 838h17v17h-17zM692 838h17v17h-17zM708 838h17v17h-17zM692 854h17v17h-17zM708 854h17v17h-17z" fill="#ff3300"/>
</g>
<path d="M100.0 340.5L107.6 335.7L114.3 328.1L119.0 322.4L126.7 317.6L133.3 311.9L138.1 307.1L141.0 302.4L142.3 296.7L141.0 291.0L139.0 283.3L136.2 277.6L131.4 274.8L124.8 276.7L119.0 279.5L114.3 281.4L109.5 281.8L105.7 280.7L101.9 281.4L105.7 282.2L110.5 283.3L113.7 280.3L112.6 276.1L114.3 271.0L119.0 266.2L123.8 258.6L128.6 253.8L136.2 251.0L145.7 249.4L150.5 251.0L151.4 254.8L149.1 259.5L150.5 261.4L154.3 258.2L159.0 258.2L161.0 262.4L160.2 265.4L164.8 261.4L167.8 260.1L166.7 262.8L162.9 266.6L166.7 271.9L171.4 275.7L173.9 273.8L179.0 273.8L183.8 274.2L183.8 276.1L179.0 275.7L173.9 277.2L171.4 283.3L168.6 287.1L164.4 287.5L163.8 285.6L162.5 286.4L162.9 291.0L161.0 291.9L160.6 296.7L160.6 304.3L161.3 308.1L166.7 307.1L176.2 303.3L185.7 299.5L195.2 295.7L206.7 291.0L218.1 286.8L229.5 281.4L241.0 276.7L252.4 271.0L261.9 266.6L271.4 262.8L273.0 269.0L274.3 274.8L275.6 274.8L275.2 269.0L276.8 266.2L278.7 269.0L280.0 266.6L278.1 261.4L280.6 259.5L282.9 256.7L290.5 252.9L300.0 249.4L300.0 249.4L311.4 245.2L322.9 241.8L338.1 239.5L353.3 237.6L368.6 236.7L381.9 236.7L393.3 237.2L402.9 238.4L409.5 239.1L410.5 233.8L408.6 228.1L403.8 223.3L399.0 221.4L395.2 219.5L389.5 219.0L383.8 218.6L381.0 215.7L376.2 212.9L371.4 214.4L367.6 211.9L366.7 208.1L369.0 205.6L372.0 206.8L372.4 209.4L380.0 208.1L383.8 211.0L389.5 210.6L395.2 211.9L401.0 211.9L403.8 207.1L409.5 206.8L414.3 204.9L416.2 209.0L414.3 212.9L417.1 215.7L419.0 221.4L424.8 225.2L429.5 228.1L433.3 232.9L440.0 235.7L445.7 237.6L450.5 242.4L457.7 243.7L456.6 246.2L452.4 245.2L446.7 243.3L441.0 241.4L436.2 241.0L440.0 245.2L444.8 249.0L452.4 255.7L460.0 262.4L467.6 269.0L475.2 273.8L482.9 276.1L492.4 276.7L500.0 276.1L500.0 276.1L505.7 271.9L510.5 266.2L517.1 262.4L522.9 260.5L528.6 262.4L536.2 261.4L541.0 257.6L545.7 253.8L549.9 251.9L551.4 241.4L550.7 231.9L549.9 221.4L551.8 219.5L554.3 223.3L555.2 230.0L557.1 233.8L555.2 239.5L554.5 247.1L556.2 253.8L557.1 258.6L561.0 253.8L563.8 256.7L567.6 254.8L566.7 260.5L564.8 264.3L569.5 268.1L573.3 272.9L575.8 273.8L576.2 264.3L577.7 264.3L578.5 274.8L583.8 275.7L595.2 275.3L599.0 277.2L602.9 283.3L605.1 285.2L607.0 280.5L609.5 273.8L610.9 268.5L611.8 275.7L610.5 283.3L610.9 291.9L612.0 300.5L610.5 302.8L609.0 298.6L608.6 292.9L614.3 294.2L621.9 295.3L631.4 294.8L639.0 290.0L643.8 283.3L646.3 275.7L645.7 268.1L642.9 261.4L641.9 259.5L645.7 260.5L646.7 265.2L650.5 265.6L654.3 264.9L650.0 265.3L655.8 266.4L664.5 268.2L663.8 275.5L666.7 277.2L671.8 274.0L676.9 268.9L681.3 264.5L682.3 262.1L679.8 261.6L676.9 266.0L675.0 265.3L675.5 258.0L674.0 253.6L670.4 250.0L666.3 246.4L665.3 243.5L667.7 240.5L670.4 241.3L673.3 242.7L675.5 241.3L676.9 239.1L679.1 238.4L681.3 241.3L683.5 236.9L687.1 236.2L689.3 233.3L692.2 234.0L694.4 230.4L696.5 225.3L698.7 224.3L700.9 226.7L704.5 228.9L708.2 226.7L712.5 229.6L717.6 231.8L720.5 236.9L721.3 240.5L718.4 243.5L722.0 244.9L722.7 249.3L719.8 252.2L722.7 253.9L725.6 252.9L727.1 246.4L729.3 240.5L734.4 238.4L737.3 240.5L743.1 242.7L748.9 244.2L754.7 245.6L758.4 247.1L763.5 250.7L767.8 252.9L773.6 253.6L778.0 258.7L780.9 260.2L786.7 258.7L791.8 257.7L798.4 258.0L792.5 258.7L791.8 265.3L791.1 272.5L787.5 274.7L786.7 279.8L788.9 284.2L788.2 289.3L790.4 295.8L795.5 293.6L801.3 291.5L810.0 289.3L810.5 287.1L814.3 284.3L812.4 279.5L809.5 276.7L812.4 275.7L815.2 281.4L819.0 279.5L820.4 273.8L823.8 271.9L825.3 276.7L823.8 283.3L821.0 287.1L818.1 291.9L817.1 295.7L821.9 297.6L823.8 291.9L826.7 285.2L830.5 277.6L834.3 268.1" fill="none" stroke="#918a93" stroke-width="7" stroke-linejoin="round" stroke-linecap="round" opacity="0.75" filter="url(#gb3)"/>
<path d="M500.0 276.1L500.0 276.1L505.7 271.9L510.5 266.2L517.1 262.4L522.9 260.5L528.6 262.4L536.2 261.4L541.0 257.6L545.7 253.8L549.9 251.9L551.4 241.4L550.7 231.9L549.9 221.4L551.8 219.5L554.3 223.3L555.2 230.0L557.1 233.8L555.2 239.5L554.5 247.1L556.2 253.8L557.1 258.6" fill="none" stroke="#918a93" stroke-width="16" stroke-linejoin="round" stroke-linecap="round" opacity="0.9" filter="url(#gb3)"/>
<path d="M185.7 299.5L195.2 295.7L206.7 291.0L218.1 286.8L229.5 281.4L241.0 276.7" fill="none" stroke="#918a93" stroke-width="15" stroke-linejoin="round" stroke-linecap="round" opacity="0.8" filter="url(#gb3)"/>
<path d="M424.8 225.2L429.5 228.1L433.3 232.9L440.0 235.7L445.7 237.6L450.5 242.4L457.7 243.7L456.6 246.2L452.4 245.2L446.7 243.3L441.0 241.4L436.2 241.0L440.0 245.2L444.8 249.0L452.4 255.7L460.0 262.4L467.6 269.0L475.2 273.8L482.9 276.1L492.4 276.7L500.0 276.1L500.0 276.1" fill="none" stroke="#918a93" stroke-width="18" stroke-linejoin="round" stroke-linecap="round" opacity="0.9" filter="url(#gb)"/>
<path d="M655.8 266.4L664.5 268.2L663.8 275.5L666.7 277.2L671.8 274.0L676.9 268.9L681.3 264.5L682.3 262.1L679.8 261.6L676.9 266.0L675.0 265.3L675.5 258.0L674.0 253.6L670.4 250.0L666.3 246.4L665.3 243.5L667.7 240.5L670.4 241.3L673.3 242.7L675.5 241.3L676.9 239.1L679.1 238.4L681.3 241.3L683.5 236.9L687.1 236.2L689.3 233.3L692.2 234.0L694.4 230.4L696.5 225.3L698.7 224.3L700.9 226.7L704.5 228.9L708.2 226.7L712.5 229.6L717.6 231.8L720.5 236.9L721.3 240.5L718.4 243.5L722.0 244.9L722.7 249.3L719.8 252.2L722.7 253.9L725.6 252.9L727.1 246.4L729.3 240.5L734.4 238.4L737.3 240.5L743.1 242.7L748.9 244.2L754.7 245.6L758.4 247.1L763.5 250.7L767.8 252.9L773.6 253.6L778.0 258.7L780.9 260.2L786.7 258.7L791.8 257.7L798.4 258.0L792.5 258.7L791.8 265.3L791.1 272.5L787.5 274.7L786.7 279.8L788.9 284.2L788.2 289.3L790.4 295.8L795.5 293.6L801.3 291.5" fill="none" stroke="#918a93" stroke-width="20" stroke-linejoin="round" stroke-linecap="round" opacity="1.0" filter="url(#gb3)"/>
<path d="M743.1 242.7L748.9 244.2L754.7 245.6L758.4 247.1L763.5 250.7L767.8 252.9L773.6 253.6L778.0 258.7L780.9 260.2L786.7 258.7L791.8 257.7L798.4 258.0L792.5 258.7L791.8 265.3L791.1 272.5L787.5 274.7L786.7 279.8L788.9 284.2L788.2 289.3L790.4 295.8L795.5 293.6" fill="none" stroke="#918a93" stroke-width="30" stroke-linejoin="round" stroke-linecap="round" opacity="0.8" filter="url(#gb)"/>
<path d="M219.0 419.5 223.8 420.9 224.8 425.2 221.9 430.0 217.1 431.9 214.3 436.7 210.5 440.5 207.6 438.6 209.5 434.8 206.7 431.9 203.8 429.0 201.0 427.1 203.8 426.2 207.6 430.0 211.4 431.9 214.3 426.2 216.2 421.4zM196.2 446.2 201.0 442.4 203.8 439.5 207.6 440.5 208.6 444.3 205.7 449.0 202.9 452.9 199.0 455.7 196.2 451.9zM151.4 479.5 157.1 473.8 162.9 468.1 170.5 464.3 178.1 458.6 184.8 453.8 189.5 451.9 190.5 456.7 188.6 464.3 185.7 471.9 183.8 476.7 180.0 479.5 179.0 487.1 181.9 494.8 183.8 500.5 178.1 502.4 172.4 498.6 168.6 496.7 164.8 500.5 162.9 506.2 164.8 513.8 166.7 521.4 170.5 527.1 171.4 532.9 168.6 531.0 165.7 525.2 162.9 519.5 159.0 515.7 157.1 519.5 153.3 517.6 149.5 513.8 147.6 508.1 142.9 506.2 140.0 511.9 141.0 519.5 138.1 520.5 135.2 515.7 131.4 511.9 134.3 508.1 130.5 505.2 124.8 507.1 126.7 503.3 134.3 500.5 141.9 497.6 148.6 494.8 150.5 490.0 154.3 487.1 155.2 483.3 154.3 481.4zM186.7 479.5 189.5 473.8 193.3 471.9 197.1 469.0 199.0 473.8 198.1 481.4 201.0 483.3 202.9 489.0 201.9 496.7 199.0 502.4 200.0 508.1 203.8 511.0 206.7 506.2 209.5 500.5 214.3 500.5 218.1 504.3 219.0 510.0 216.2 515.7 212.4 519.5 208.6 517.6 204.8 521.4 206.7 527.1 203.8 531.0 200.0 528.1 197.1 530.0 193.3 526.2 191.4 520.5 193.3 515.7 191.4 511.0 194.3 507.1 193.3 500.5 195.2 494.8 197.1 490.0 194.3 487.1 191.4 490.0 187.6 489.0 186.7 483.3zM221.9 522.4 225.7 517.6 230.5 513.4 231.8 515.3 227.6 520.5 223.8 525.2 221.5 524.9zM101.9 507.1 107.6 506.2 115.2 506.6 116.2 509.0 112.4 511.9 113.3 517.6 115.2 521.4 111.4 523.0 106.7 521.4 103.8 525.2 101.9 524.3zM110.5 537.6 114.3 536.7 116.2 540.5 121.0 542.4 125.7 545.2 124.8 548.1 119.0 547.1 114.3 545.2 110.5 546.2 109.5 541.4zM101.9 588.1 107.6 591.9 110.5 599.5 111.4 611.0 113.3 622.4 115.2 631.9 111.4 633.8 108.6 639.5 113.3 637.6 119.0 639.5 124.8 633.8 126.7 626.2 128.6 620.5 134.3 621.4 137.1 625.2 134.3 631.9 132.4 639.5 136.2 641.4 141.0 636.7 144.8 634.8 143.8 638.6 139.0 642.4 136.2 647.1 138.1 652.9 145.7 651.0 151.4 645.2 159.0 645.2 164.8 647.1 172.4 645.2 176.2 649.0 174.3 656.7 173.3 666.2 170.5 671.9 165.7 671.9 163.8 666.2 166.7 660.5 164.8 656.7 157.1 658.6 151.4 662.4 147.6 666.2 142.9 668.1 141.0 673.8 144.8 681.4 148.6 687.1 152.4 694.8 151.4 698.6 147.6 694.8 142.9 691.0 139.0 691.9 136.2 687.1 133.3 681.4 135.2 675.7 132.4 670.0 126.7 668.1 124.8 673.8 119.0 671.9 113.3 673.8 107.6 671.9 101.9 673.8zM101.9 681.4 107.6 683.3 109.5 689.0 117.1 688.1 124.8 690.0 130.5 694.8 131.4 702.4 126.7 704.3 122.9 702.4 117.1 700.5 111.4 698.6 105.7 696.7 101.9 694.8zM101.9 702.4 109.5 704.3 117.1 708.1 124.8 710.0 132.4 711.9 138.1 719.5 145.7 721.4 151.4 717.6 153.3 710.0 157.1 708.1 162.9 707.1 168.6 704.3 172.4 708.1 173.3 713.8 168.6 715.7 166.7 721.4 162.9 725.2 164.8 732.9 166.7 740.5 162.9 742.4 157.1 744.3 151.4 745.2 147.6 740.5 143.8 732.9 138.1 727.1 132.4 723.3 126.7 719.5 122.9 725.2 117.1 729.0 113.3 723.3 107.6 717.6 101.9 715.7zM138.1 620.5 141.0 614.8 145.7 611.0 150.5 605.2 153.3 597.6 157.1 590.0 159.0 582.4 162.9 574.8 166.7 569.0 169.5 561.4 171.4 555.7 175.2 554.8 176.2 561.4 173.3 569.0 170.5 576.7 167.6 584.3 164.8 591.9 161.0 599.5 157.1 607.1 153.3 612.9 147.6 616.7 143.8 621.4zM144.8 628.1 149.5 622.4 155.2 618.6 161.0 612.9 166.7 607.1 172.4 601.4 178.1 595.7 181.9 588.1 184.8 586.2 184.8 605.2 180.0 607.1 174.3 605.2 170.5 609.0 164.8 614.8 161.0 622.4 157.1 624.3 155.2 630.0 150.5 633.8 145.7 631.9zM117.1 567.1 121.0 563.3 124.8 568.1 128.6 570.0 131.4 565.2 133.3 555.7 136.2 553.8 137.1 561.4 138.1 568.1 133.3 571.0 128.6 574.8 126.7 582.4 123.8 590.0 121.9 595.7 119.0 588.1 117.1 584.3 120.0 578.6 119.0 572.9zM140.0 584.3 144.8 581.4 147.6 575.7 152.4 574.8 150.5 579.5 147.6 583.3 145.7 590.0 142.9 594.8 140.4 591.0zM101.9 580.5 107.6 576.7 111.4 577.6 109.5 583.3 105.7 586.2 101.9 585.2zM121.0 602.4 125.7 601.4 127.6 607.1 125.7 613.8 121.9 614.8 120.0 608.1zM186.7 584.3 191.4 580.5 195.2 574.8 197.1 569.0 200.0 572.9 199.0 578.6 195.2 582.4 191.4 586.2 189.5 590.0 195.2 591.0 194.3 599.5 195.2 607.1 191.4 606.2 186.7 605.2zM209.5 581.4 214.3 579.0 219.0 582.4 220.0 585.2 215.2 587.1 211.4 585.2zM205.7 595.7 210.5 596.7 214.3 601.4 213.3 607.1 209.5 608.1 208.6 604.3 211.4 601.4 207.6 598.6zM197.1 633.8 202.9 631.9 209.5 629.0 214.3 628.1 218.1 630.0 216.2 635.7 214.3 641.4 211.4 637.6 206.7 635.7 203.8 638.6 199.0 636.7zM177.1 639.5 183.8 641.4 191.4 638.6 193.3 643.3 191.4 649.0 186.7 651.0 183.8 647.1 179.0 644.3zM173.3 691.0 176.2 687.1 183.8 685.2 190.5 686.2 191.4 691.0 186.7 693.8 180.0 692.9 175.2 694.8zM149.5 673.8 154.3 671.9 157.1 677.6 158.1 685.2 155.2 686.2 152.4 681.4zM176.2 555.7 183.8 551.9 184.8 572.9 181.0 575.7 178.1 569.0 180.0 563.3zM149.5 551.9 157.1 551.0 164.8 551.9 162.9 555.7 157.1 557.2 151.4 554.8zM113.3 752.3 119.0 751.5 124.8 751.9 129.5 755.7 128.6 760.5 124.8 761.4 121.0 757.6 118.1 755.7 117.1 760.5 113.7 763.0 113.0 759.5 115.2 757.6zM174.3 751.5 176.6 751.5 178.1 757.6 179.6 765.2 179.0 768.7 176.2 767.1 174.7 761.4zM101.5 781.4 103.4 788.1 104.2 795.7 107.6 803.3 106.7 805.6 103.4 803.3 101.5 799.5zM196.2 540.5 201.0 537.6 204.8 539.5 208.6 542.4 212.4 548.1 211.4 551.0 197.1 551.0 195.2 545.2zM142.9 545.2 149.5 546.2 155.2 543.3 161.0 544.3 162.9 549.0 161.0 551.0 144.8 551.0z" fill="#918a93" stroke="#918a93" stroke-width="12" stroke-linejoin="round" opacity="0.55" filter="url(#gb)"/>
<polygon points="110.5,248.1 154.3,246.2 164.8,256.7 176.2,271.9 186.7,273.8 176.2,284.3 163.8,295.7 162.5,308.1 141.0,307.1 140.0,283.3 110.5,284.3" fill="#918a93" opacity="1" filter="url(#gb3)"/>
<polygon points="160.0,309.0 159.2,313.3 157.0,316.8 153.8,318.7 150.2,318.7 147.0,316.8 144.8,313.3 144.0,309.0 144.8,304.7 147.0,301.2 150.2,299.3 153.8,299.3 157.0,301.2 159.2,304.7" fill="#918a93" opacity="0.85" filter="url(#gb)"/>
<polygon points="364.8,203.3 419.0,203.3 422.9,222.4 438.1,233.8 461.0,243.3 456.2,252.9 441.0,252.9 425.7,249.0 412.4,239.5 406.7,226.2 381.9,220.9 364.8,215.7" fill="#918a93" opacity="1" filter="url(#gb3)"/>
<polygon points="468.0,262.0 466.4,267.2 462.0,271.4 455.6,273.7 448.4,273.7 442.0,271.4 437.6,267.2 436.0,262.0 437.6,256.8 442.0,252.6 448.4,250.3 455.6,250.3 462.0,252.6 466.4,256.8" fill="#918a93" opacity="0.85" filter="url(#gb)"/>
<polygon points="548.6,218.6 558.1,218.6 558.1,261.4 548.6,261.4" fill="#918a93" opacity="1" filter="url(#gb3)"/>
<polygon points="603.8,281.4 614.3,281.4 615.2,302.4 604.8,302.4" fill="#918a93" opacity="0.8" filter="url(#gb3)"/>
<polygon points="616.2,291.9 644.8,290.0 644.8,300.5 616.2,302.4" fill="#918a93" opacity="0.6" filter="url(#gb)"/>
<polygon points="834.0,335.0 832.7,339.8 829.1,343.6 823.9,345.7 818.1,345.7 812.9,343.6 809.3,339.8 808.0,335.0 809.3,330.2 812.9,326.4 818.1,324.3 823.9,324.3 829.1,326.4 832.7,330.2" fill="#918a93" opacity="0.65" filter="url(#gb)"/>
<polygon points="833.0,354.0 832.0,356.2 829.2,357.9 825.2,358.9 820.8,358.9 816.8,357.9 814.0,356.2 813.0,354.0 814.0,351.8 816.8,350.1 820.8,349.1 825.2,349.1 829.2,350.1 832.0,351.8" fill="#918a93" opacity="0.6" filter="url(#gb3)"/>
<polygon points="857.0,156.0 856.1,160.3 853.6,163.8 850.0,165.7 846.0,165.7 842.4,163.8 839.9,160.3 839.0,156.0 839.9,151.7 842.4,148.2 846.0,146.3 850.0,146.3 853.6,148.2 856.1,151.7" fill="#918a93" opacity="0.9" filter="url(#gb)"/>
<polygon points="841.0,286.0 840.2,292.5 838.0,297.7 834.8,300.6 831.2,300.6 828.0,297.7 825.8,292.5 825.0,286.0 825.8,279.5 828.0,274.3 831.2,271.4 834.8,271.4 838.0,274.3 840.2,279.5" fill="#918a93" opacity="0.85" filter="url(#gb)"/>
<polygon points="808.6,271.0 827.6,270.0 826.7,297.6 814.3,298.6" fill="#918a93" opacity="1" filter="url(#gb3)"/>
<polygon points="737.0,240.0 760.0,250.0 795.0,258.0 796.0,290.0 778.0,297.0 765.0,280.0 750.0,258.0" fill="#918a93" opacity="0.95" filter="url(#gb3)"/>
<polygon points="283.0,359.0 281.8,362.9 278.5,366.0 273.7,367.8 268.3,367.8 263.5,366.0 260.2,362.9 259.0,359.0 260.2,355.1 263.5,352.0 268.3,350.2 273.7,350.2 278.5,352.0 281.8,355.1" fill="#918a93" opacity="0.9" filter="url(#gb)"/>
<polygon points="189.5,435.7 214.3,433.8 224.8,449.0 225.7,483.3 223.8,521.4 218.1,550.0 183.8,550.0 183.8,513.8 162.9,508.1 138.1,510.0 122.9,502.4 141.9,483.3 168.6,462.4 183.8,451.0" fill="#918a93" opacity="1" filter="url(#gb)"/>
<polygon points="122.0,528.0 121.0,534.1 118.2,538.9 114.2,541.6 109.8,541.6 105.8,538.9 103.0,534.1 102.0,528.0 103.0,521.9 105.8,517.1 109.8,514.4 114.2,514.4 118.2,517.1 121.0,521.9" fill="#918a93" opacity="0.8" filter="url(#gb)"/>
<polygon points="96.2,557.6 111.4,561.4 115.2,588.1 138.1,599.5 157.1,584.3 172.4,553.8 199.0,553.8 206.7,578.6 201.0,607.1 189.5,630.0 189.5,656.7 183.8,683.3 176.2,698.6 172.4,713.8 162.9,721.4 145.7,717.6 128.6,702.4 96.2,698.6" fill="#918a93" opacity="1" filter="url(#gb)"/>
<polygon points="128.0,770.0 127.1,774.8 124.6,778.6 121.0,780.7 117.0,780.7 113.4,778.6 110.9,774.8 110.0,770.0 110.9,765.2 113.4,761.4 117.0,759.3 121.0,759.3 124.6,761.4 127.1,765.2" fill="#918a93" opacity="0.8" filter="url(#gb)"/>
<polygon points="430.0,682.0 428.1,700.2 422.8,714.8 415.2,722.9 406.8,722.9 399.2,714.8 393.9,700.2 392.0,682.0 393.9,663.8 399.2,649.2 406.8,641.1 415.2,641.1 422.8,649.2 428.1,663.8" fill="#8086a8" opacity="0.85" filter="url(#gb)"/>
</g>
<g clip-path="url(#mapclip)">
<path d="M843.3 230.4L846.0 223.7M500.5 310.4L500.4 311.6M729.0 310.4L729.0 322.6M786.2 310.4L787.4 310.2M843.3 310.4L853.2 300.2M500.5 390.4L495.3 393.8M557.6 390.4L553.5 389.7M614.8 390.4L612.6 390.4M671.9 390.4L671.5 389.9M843.3 390.4L844.4 378.2M443.3 470.4L440.9 465.8M500.5 470.4L499.2 472.2M614.8 470.4L609.7 473.2M671.9 470.4L658.6 465.5M729.0 470.4L717.3 467.2M786.2 470.4L777.8 466.5M843.3 470.4L839.2 466.5M900.5 470.4L898.9 469.3M500.5 550.4L492.3 550.1M557.6 550.4L552.9 552.5M614.8 550.4L613.7 551.0M500.5 630.4L502.7 632.7M729.0 710.4L727.5 708.8M786.2 710.4L785.2 709.7M671.9 790.4L671.9 786.4M729.0 790.4L730.5 780.3M786.2 790.4L787.2 783.3M843.3 790.4L844.2 784.7M671.9 870.4L672.3 860.2M729.0 870.4L730.6 861.7M786.2 870.4L786.4 865.2M843.3 870.4L845.1 858.9M729.0 950.4L731.5 948.4M786.2 950.4L785.9 944.2M843.3 950.4L842.7 938.8M900.5 950.4L900.5 948.2" stroke="#000" stroke-width="1" fill="none"/>
<path d="M851.9 209.1L851.4 225.9L840.6 221.6zM156.4 319.3L152.8 302.9L164.3 304.5zM204.2 301.5L220.0 307.2L212.6 316.1zM263.6 311.1L278.8 304.0L279.8 315.5zM324.9 320.6L325.5 303.8L336.2 308.1zM387.3 319.3L379.6 304.4L391.1 302.9zM447.2 323.9L437.3 310.3L448.4 307.1zM499.9 327.4L494.6 311.4L506.2 311.8zM569.5 312.3L553.0 315.5L554.8 304.1zM605.8 306.0L622.5 307.7L617.4 318.2zM683.9 311.2L667.7 315.9L668.5 304.3zM729.0 338.4L723.2 322.6L734.8 322.6zM802.8 306.9L788.6 315.8L786.1 304.5zM864.2 288.8L857.4 304.2L849.0 296.2zM143.6 390.4L159.4 384.6L159.4 396.2zM202.4 386.4L219.2 385.7L215.7 396.8zM262.4 395.9L273.2 383.0L279.0 393.0zM328.8 398.4L323.5 382.4L335.1 382.8zM375.2 390.4L391.0 384.6L391.0 396.2zM452.3 390.4L436.5 396.2L436.5 384.6zM482.0 402.4L492.1 388.9L498.4 398.6zM537.9 387.3L554.4 384.0L552.6 395.5zM596.8 390.4L612.6 384.6L612.6 396.2zM662.3 377.1L676.2 386.5L666.9 393.3zM715.1 396.0L727.6 384.7L732.0 395.5zM793.6 379.8L789.3 396.0L779.8 389.4zM845.8 362.5L850.2 378.8L838.6 377.7zM157.6 476.4L151.8 460.6L163.4 460.6zM214.8 482.4L209.0 466.6L220.6 466.6zM270.0 479.2L267.7 462.5L279.0 465.0zM320.1 474.8L331.7 462.6L336.8 473.1zM377.0 478.1L385.4 463.5L392.8 472.4zM433.5 451.9L446.0 463.1L435.8 468.5zM489.9 485.0L494.5 468.8L503.9 475.6zM544.3 466.1L561.1 465.4L557.5 476.5zM595.9 480.9L606.9 468.1L612.5 478.3zM643.7 460.1L660.5 460.1L656.6 471.0zM702.0 463.2L718.8 461.6L715.8 472.8zM763.5 459.8L780.3 461.3L775.4 471.8zM827.6 455.7L843.1 462.3L835.2 470.8zM885.8 460.5L902.1 464.5L895.6 474.1zM97.1 559.8L97.0 543.0L107.9 546.9zM147.7 551.3L162.9 544.1L163.9 555.7zM261.9 550.1L277.9 544.8L277.5 556.4zM319.4 557.2L329.0 543.4L335.7 552.9zM377.3 558.7L384.9 543.7L392.8 552.2zM434.1 559.6L441.2 544.3L449.4 552.5zM476.5 549.6L492.5 544.3L492.1 555.9zM538.4 558.9L550.5 547.2L555.2 557.8zM600.2 559.2L610.7 546.0L616.7 556.0zM659.9 550.4L675.7 544.6L675.7 556.2zM716.4 544.5L733.1 545.9L728.2 556.4zM774.1 543.4L790.6 546.3L784.8 556.3zM830.3 542.9L846.9 545.8L841.1 555.8zM886.9 544.1L903.6 545.5L898.7 556.0zM214.3 643.4L209.1 627.4L220.7 627.8zM260.7 634.7L273.4 623.6L277.5 634.5zM319.9 636.6L329.8 622.9L336.3 632.5zM376.7 635.9L387.5 623.0L393.3 633.0zM443.3 617.4L449.1 633.2L437.5 633.2zM513.4 644.3L498.4 636.7L506.9 628.8zM554.1 641.9L553.2 625.1L564.3 628.5zM608.9 638.5L613.5 622.3L622.9 629.1zM659.2 627.7L675.8 625.3L673.4 636.7zM718.8 619.4L733.8 627.0L725.3 634.9zM773.2 625.2L790.0 625.7L785.7 636.5zM829.8 623.8L846.6 625.5L841.5 636.0zM886.9 624.1L903.6 625.5L898.7 636.0zM157.6 718.4L151.8 702.6L163.4 702.6zM209.8 723.5L210.0 706.6L220.8 710.8zM261.9 714.9L273.9 703.1L278.7 713.7zM318.1 710.4L333.9 704.6L333.9 716.2zM379.9 699.0L392.6 710.0L382.5 715.7zM443.3 697.4L449.1 713.2L437.5 713.2zM498.5 724.3L495.0 707.8L506.5 709.4zM558.1 725.4L551.8 709.8L563.4 709.4zM604.5 712.8L618.6 703.6L621.2 714.9zM660.0 709.1L676.3 705.0L675.1 716.6zM716.3 697.7L731.6 704.7L723.4 712.9zM772.8 699.9L788.8 705.1L781.7 714.2zM831.2 703.4L847.8 706.3L842.0 716.3zM889.2 703.9L905.8 706.8L900.0 716.8zM151.3 798.2L156.8 782.2L165.8 789.5zM211.2 800.8L210.9 784.0L221.8 787.7zM266.8 799.0L269.9 782.4L279.9 788.4zM318.2 788.5L334.8 785.5L332.8 796.9zM376.2 782.0L392.1 787.8L384.6 796.6zM431.7 784.7L448.4 786.4L443.3 796.8zM496.0 802.6L496.0 785.8L506.9 789.8zM557.6 799.9L551.8 784.1L563.4 784.1zM603.5 786.3L620.3 786.2L616.3 797.1zM671.9 770.6L677.7 786.4L666.1 786.4zM732.7 764.7L736.2 781.1L724.7 779.5zM789.4 767.6L792.9 784.1L781.4 782.5zM846.7 769.1L850.0 785.6L838.5 783.8zM152.8 880.3L154.5 863.5L165.0 868.6zM207.1 877.6L214.7 862.5L222.6 871.0zM262.1 875.4L273.6 863.1L278.8 873.4zM318.6 864.6L335.2 867.2L329.6 877.3zM377.0 860.5L392.0 868.1L383.5 876.0zM431.1 868.0L447.7 865.3L445.5 876.7zM489.2 876.9L500.0 864.0L505.8 874.0zM546.2 869.0L562.6 865.2L561.2 876.7zM604.7 858.0L619.1 866.6L610.1 873.9zM672.8 844.4L678.1 860.4L666.5 860.0zM733.3 846.2L736.3 862.7L724.9 860.7zM786.9 849.4L792.2 865.4L780.6 865.0zM847.6 843.3L850.9 859.9L839.4 858.0zM262.3 953.0L276.0 943.3L279.0 954.5zM376.5 947.8L393.3 946.3L390.3 957.5zM564.0 940.2L560.5 956.7L550.7 950.5zM683.8 943.0L673.4 956.3L667.3 946.4zM743.8 938.4L735.2 952.9L727.9 943.9zM785.0 928.4L791.6 943.9L780.1 944.5zM841.9 923.0L848.5 938.5L836.9 939.1zM900.5 932.4L906.3 948.2L894.7 948.2z" fill="#000"/>
</g>
<g clip-path="url(#mapclip)" stroke-linejoin="round">
<polygon points="90.0,340.5 100.0,340.5 107.6,335.7 114.3,328.1 119.0,322.4 126.7,317.6 133.3,311.9 138.1,307.1 141.0,302.4 142.3,296.7 141.0,291.0 139.0,283.3 136.2,277.6 131.4,274.8 124.8,276.7 119.0,279.5 114.3,281.4 109.5,281.8 105.7,280.7 101.9,281.4 105.7,282.2 110.5,283.3 113.7,280.3 112.6,276.1 114.3,271.0 119.0,266.2 123.8,258.6 128.6,253.8 136.2,251.0 145.7,249.4 150.5,251.0 151.4,254.8 149.1,259.5 150.5,261.4 154.3,258.2 159.0,258.2 161.0,262.4 160.2,265.4 164.8,261.4 167.8,260.1 166.7,262.8 162.9,266.6 166.7,271.9 171.4,275.7 173.9,273.8 179.0,273.8 183.8,274.2 183.8,276.1 179.0,275.7 173.9,277.2 171.4,283.3 168.6,287.1 164.4,287.5 163.8,285.6 162.5,286.4 162.9,291.0 161.0,291.9 160.6,296.7 160.6,304.3 161.3,308.1 166.7,307.1 176.2,303.3 185.7,299.5 195.2,295.7 206.7,291.0 218.1,286.8 229.5,281.4 241.0,276.7 252.4,271.0 261.9,266.6 271.4,262.8 273.0,269.0 274.3,274.8 275.6,274.8 275.2,269.0 276.8,266.2 278.7,269.0 280.0,266.6 278.1,261.4 280.6,259.5 282.9,256.7 290.5,252.9 300.0,249.4 300.0,249.4 311.4,245.2 322.9,241.8 338.1,239.5 353.3,237.6 368.6,236.7 381.9,236.7 393.3,237.2 402.9,238.4 409.5,239.1 410.5,233.8 408.6,228.1 403.8,223.3 399.0,221.4 395.2,219.5 389.5,219.0 383.8,218.6 381.0,215.7 376.2,212.9 371.4,214.4 367.6,211.9 366.7,208.1 369.0,205.6 372.0,206.8 372.4,209.4 380.0,208.1 383.8,211.0 389.5,210.6 395.2,211.9 401.0,211.9 403.8,207.1 409.5,206.8 414.3,204.9 416.2,209.0 414.3,212.9 417.1,215.7 419.0,221.4 424.8,225.2 429.5,228.1 433.3,232.9 440.0,235.7 445.7,237.6 450.5,242.4 457.7,243.7 456.6,246.2 452.4,245.2 446.7,243.3 441.0,241.4 436.2,241.0 440.0,245.2 444.8,249.0 452.4,255.7 460.0,262.4 467.6,269.0 475.2,273.8 482.9,276.1 492.4,276.7 500.0,276.1 500.0,276.1 505.7,271.9 510.5,266.2 517.1,262.4 522.9,260.5 528.6,262.4 536.2,261.4 541.0,257.6 545.7,253.8 549.9,251.9 551.4,241.4 550.7,231.9 549.9,221.4 551.8,219.5 554.3,223.3 555.2,230.0 557.1,233.8 555.2,239.5 554.5,247.1 556.2,253.8 557.1,258.6 561.0,253.8 563.8,256.7 567.6,254.8 566.7,260.5 564.8,264.3 569.5,268.1 573.3,272.9 575.8,273.8 576.2,264.3 577.7,264.3 578.5,274.8 583.8,275.7 595.2,275.3 599.0,277.2 602.9,283.3 605.1,285.2 607.0,280.5 609.5,273.8 610.9,268.5 611.8,275.7 610.5,283.3 610.9,291.9 612.0,300.5 610.5,302.8 609.0,298.6 608.6,292.9 614.3,294.2 621.9,295.3 631.4,294.8 639.0,290.0 643.8,283.3 646.3,275.7 645.7,268.1 642.9,261.4 641.9,259.5 645.7,260.5 646.7,265.2 650.5,265.6 654.3,264.9 650.0,265.3 655.8,266.4 664.5,268.2 663.8,275.5 666.7,277.2 671.8,274.0 676.9,268.9 681.3,264.5 682.3,262.1 679.8,261.6 676.9,266.0 675.0,265.3 675.5,258.0 674.0,253.6 670.4,250.0 666.3,246.4 665.3,243.5 667.7,240.5 670.4,241.3 673.3,242.7 675.5,241.3 676.9,239.1 679.1,238.4 681.3,241.3 683.5,236.9 687.1,236.2 689.3,233.3 692.2,234.0 694.4,230.4 696.5,225.3 698.7,224.3 700.9,226.7 704.5,228.9 708.2,226.7 712.5,229.6 717.6,231.8 720.5,236.9 721.3,240.5 718.4,243.5 722.0,244.9 722.7,249.3 719.8,252.2 722.7,253.9 725.6,252.9 727.1,246.4 729.3,240.5 734.4,238.4 737.3,240.5 743.1,242.7 748.9,244.2 754.7,245.6 758.4,247.1 763.5,250.7 767.8,252.9 773.6,253.6 778.0,258.7 780.9,260.2 786.7,258.7 791.8,257.7 798.4,258.0 792.5,258.7 791.8,265.3 791.1,272.5 787.5,274.7 786.7,279.8 788.9,284.2 788.2,289.3 790.4,295.8 795.5,293.6 801.3,291.5 810.0,289.3 810.5,287.1 814.3,284.3 812.4,279.5 809.5,276.7 812.4,275.7 815.2,281.4 819.0,279.5 820.4,273.8 823.8,271.9 825.3,276.7 823.8,283.3 821.0,287.1 818.1,291.9 817.1,295.7 821.9,297.6 823.8,291.9 826.7,285.2 830.5,277.6 834.3,268.1 837.1,258.6 839.0,249.0 840.6,237.6 841.3,226.2 841.9,214.8 842.5,207.1 841.9,199.5 841.0,191.0 838.1,189.0 840.0,185.2 842.9,182.4 844.4,176.7 845.7,169.0 843.8,161.4 842.9,155.7 841.9,150.0 841.9,140.0 90.0,140.0" fill="#0e6b24" stroke="#000" stroke-width="1.15"/>
<path d="M393.3 238.0 399.0 239.1 414.3 246.8 425.7 253.4 431.4 259.1 432.8 264.3 429.5 263.7 421.9 257.0 408.6 249.4 395.2 241.8zM562.9 279.5 567.6 277.6 576.2 277.2 578.1 283.3 581.0 290.0 585.7 296.7 587.6 301.4 584.8 300.5 580.0 294.8 576.2 291.9 573.3 293.8 568.6 291.9 564.8 287.1 562.9 282.4zM588.2 304.7 591.0 303.9 593.0 305.2 590.7 306.6 588.6 306.2zM650.1 290.6 654.3 290.2 655.8 291.7 652.4 292.9 650.1 292.1zM563.2 311.0 566.7 309.6 569.5 311.9 568.2 316.1 564.8 315.3zM821.5 311.9 823.4 312.3 823.8 315.3 821.9 315.7zM240.0 364.9 250.5 363.3 263.8 363.7 277.1 363.0 283.8 360.5 287.6 353.8 289.5 351.0 293.3 351.9 291.4 361.4 287.6 371.0 282.9 378.6 279.0 385.2 275.2 387.1 274.3 384.3 278.1 378.6 275.2 377.6 271.4 378.6 265.7 379.5 264.2 376.7 267.6 373.8 271.4 372.5 265.7 371.0 256.2 369.0 246.7 367.5zM219.0 419.5 223.8 420.9 224.8 425.2 221.9 430.0 217.1 431.9 214.3 436.7 210.5 440.5 207.6 438.6 209.5 434.8 206.7 431.9 203.8 429.0 201.0 427.1 203.8 426.2 207.6 430.0 211.4 431.9 214.3 426.2 216.2 421.4zM196.2 446.2 201.0 442.4 203.8 439.5 207.6 440.5 208.6 444.3 205.7 449.0 202.9 452.9 199.0 455.7 196.2 451.9zM151.4 479.5 157.1 473.8 162.9 468.1 170.5 464.3 178.1 458.6 184.8 453.8 189.5 451.9 190.5 456.7 188.6 464.3 185.7 471.9 183.8 476.7 180.0 479.5 179.0 487.1 181.9 494.8 183.8 500.5 178.1 502.4 172.4 498.6 168.6 496.7 164.8 500.5 162.9 506.2 164.8 513.8 166.7 521.4 170.5 527.1 171.4 532.9 168.6 531.0 165.7 525.2 162.9 519.5 159.0 515.7 157.1 519.5 153.3 517.6 149.5 513.8 147.6 508.1 142.9 506.2 140.0 511.9 141.0 519.5 138.1 520.5 135.2 515.7 131.4 511.9 134.3 508.1 130.5 505.2 124.8 507.1 126.7 503.3 134.3 500.5 141.9 497.6 148.6 494.8 150.5 490.0 154.3 487.1 155.2 483.3 154.3 481.4zM186.7 479.5 189.5 473.8 193.3 471.9 197.1 469.0 199.0 473.8 198.1 481.4 201.0 483.3 202.9 489.0 201.9 496.7 199.0 502.4 200.0 508.1 203.8 511.0 206.7 506.2 209.5 500.5 214.3 500.5 218.1 504.3 219.0 510.0 216.2 515.7 212.4 519.5 208.6 517.6 204.8 521.4 206.7 527.1 203.8 531.0 200.0 528.1 197.1 530.0 193.3 526.2 191.4 520.5 193.3 515.7 191.4 511.0 194.3 507.1 193.3 500.5 195.2 494.8 197.1 490.0 194.3 487.1 191.4 490.0 187.6 489.0 186.7 483.3zM220.4 498.2 226.7 497.0 230.5 499.5 228.6 502.4 221.9 503.3zM221.9 522.4 225.7 517.6 230.5 513.4 231.8 515.3 227.6 520.5 223.8 525.2 221.5 524.9zM101.9 507.1 107.6 506.2 115.2 506.6 116.2 509.0 112.4 511.9 113.3 517.6 115.2 521.4 111.4 523.0 106.7 521.4 103.8 525.2 101.9 524.3zM110.5 537.6 114.3 536.7 116.2 540.5 121.0 542.4 125.7 545.2 124.8 548.1 119.0 547.1 114.3 545.2 110.5 546.2 109.5 541.4zM213.3 459.0 215.2 459.0 215.2 460.9 213.3 460.9zM226.1 456.3 228.6 456.3 228.6 458.6 226.1 458.6zM203.8 476.1 206.7 476.1 206.7 478.8 203.8 478.8zM335.2 380.1 339.0 378.6 347.6 378.2 357.1 376.7 366.7 374.4 372.0 373.2 373.9 375.1 371.4 378.2 364.8 380.9 357.1 383.3 349.5 384.9 341.9 383.9 337.1 382.4zM382.3 369.0 385.7 366.2 389.5 361.4 393.3 357.2 399.0 354.8 402.9 354.8 401.9 358.0 397.1 361.0 392.4 364.3 388.6 368.1 384.8 370.6zM615.2 382.4 621.9 381.4 629.5 384.3 637.1 387.1 642.9 386.2 650.5 382.4 658.1 381.4 665.7 381.4 671.4 380.5 672.4 383.3 667.6 386.2 661.9 388.1 652.4 390.0 644.8 392.9 639.0 393.8 631.4 391.0 623.8 388.1 617.1 386.2zM603.8 371.3 605.7 370.2 607.0 372.1 605.5 374.0 604.0 373.2zM101.9 588.1 107.6 591.9 110.5 599.5 111.4 611.0 113.3 622.4 115.2 631.9 111.4 633.8 108.6 639.5 113.3 637.6 119.0 639.5 124.8 633.8 126.7 626.2 128.6 620.5 134.3 621.4 137.1 625.2 134.3 631.9 132.4 639.5 136.2 641.4 141.0 636.7 144.8 634.8 143.8 638.6 139.0 642.4 136.2 647.1 138.1 652.9 145.7 651.0 151.4 645.2 159.0 645.2 164.8 647.1 172.4 645.2 176.2 649.0 174.3 656.7 173.3 666.2 170.5 671.9 165.7 671.9 163.8 666.2 166.7 660.5 164.8 656.7 157.1 658.6 151.4 662.4 147.6 666.2 142.9 668.1 141.0 673.8 144.8 681.4 148.6 687.1 152.4 694.8 151.4 698.6 147.6 694.8 142.9 691.0 139.0 691.9 136.2 687.1 133.3 681.4 135.2 675.7 132.4 670.0 126.7 668.1 124.8 673.8 119.0 671.9 113.3 673.8 107.6 671.9 101.9 673.8zM101.9 681.4 107.6 683.3 109.5 689.0 117.1 688.1 124.8 690.0 130.5 694.8 131.4 702.4 126.7 704.3 122.9 702.4 117.1 700.5 111.4 698.6 105.7 696.7 101.9 694.8zM101.9 702.4 109.5 704.3 117.1 708.1 124.8 710.0 132.4 711.9 138.1 719.5 145.7 721.4 151.4 717.6 153.3 710.0 157.1 708.1 162.9 707.1 168.6 704.3 172.4 708.1 173.3 713.8 168.6 715.7 166.7 721.4 162.9 725.2 164.8 732.9 166.7 740.5 162.9 742.4 157.1 744.3 151.4 745.2 147.6 740.5 143.8 732.9 138.1 727.1 132.4 723.3 126.7 719.5 122.9 725.2 117.1 729.0 113.3 723.3 107.6 717.6 101.9 715.7zM138.1 620.5 141.0 614.8 145.7 611.0 150.5 605.2 153.3 597.6 157.1 590.0 159.0 582.4 162.9 574.8 166.7 569.0 169.5 561.4 171.4 555.7 175.2 554.8 176.2 561.4 173.3 569.0 170.5 576.7 167.6 584.3 164.8 591.9 161.0 599.5 157.1 607.1 153.3 612.9 147.6 616.7 143.8 621.4zM144.8 628.1 149.5 622.4 155.2 618.6 161.0 612.9 166.7 607.1 172.4 601.4 178.1 595.7 181.9 588.1 184.8 586.2 184.8 605.2 180.0 607.1 174.3 605.2 170.5 609.0 164.8 614.8 161.0 622.4 157.1 624.3 155.2 630.0 150.5 633.8 145.7 631.9zM117.1 567.1 121.0 563.3 124.8 568.1 128.6 570.0 131.4 565.2 133.3 555.7 136.2 553.8 137.1 561.4 138.1 568.1 133.3 571.0 128.6 574.8 126.7 582.4 123.8 590.0 121.9 595.7 119.0 588.1 117.1 584.3 120.0 578.6 119.0 572.9zM140.0 584.3 144.8 581.4 147.6 575.7 152.4 574.8 150.5 579.5 147.6 583.3 145.7 590.0 142.9 594.8 140.4 591.0zM101.9 580.5 107.6 576.7 111.4 577.6 109.5 583.3 105.7 586.2 101.9 585.2zM121.0 602.4 125.7 601.4 127.6 607.1 125.7 613.8 121.9 614.8 120.0 608.1zM186.7 584.3 191.4 580.5 195.2 574.8 197.1 569.0 200.0 572.9 199.0 578.6 195.2 582.4 191.4 586.2 189.5 590.0 195.2 591.0 194.3 599.5 195.2 607.1 191.4 606.2 186.7 605.2zM209.5 581.4 214.3 579.0 219.0 582.4 220.0 585.2 215.2 587.1 211.4 585.2zM205.7 595.7 210.5 596.7 214.3 601.4 213.3 607.1 209.5 608.1 208.6 604.3 211.4 601.4 207.6 598.6zM197.1 633.8 202.9 631.9 209.5 629.0 214.3 628.1 218.1 630.0 216.2 635.7 214.3 641.4 211.4 637.6 206.7 635.7 203.8 638.6 199.0 636.7zM177.1 639.5 183.8 641.4 191.4 638.6 193.3 643.3 191.4 649.0 186.7 651.0 183.8 647.1 179.0 644.3zM173.3 691.0 176.2 687.1 183.8 685.2 190.5 686.2 191.4 691.0 186.7 693.8 180.0 692.9 175.2 694.8zM175.2 612.9 181.9 611.9 184.8 614.8 183.8 619.5 178.1 616.7zM149.5 673.8 154.3 671.9 157.1 677.6 158.1 685.2 155.2 686.2 152.4 681.4zM176.2 555.7 183.8 551.9 184.8 572.9 181.0 575.7 178.1 569.0 180.0 563.3zM149.5 551.9 157.1 551.0 164.8 551.9 162.9 555.7 157.1 557.2 151.4 554.8zM201.0 551.0 210.5 551.0 209.5 554.8 203.8 555.7zM131.4 578.6 134.3 578.6 138.1 581.4 137.1 584.3 133.9 583.3zM197.1 562.4 201.0 561.4 202.9 565.2 199.0 566.8zM224.8 580.5 227.2 580.5 227.2 583.1 224.8 583.1zM227.2 624.7 230.3 624.7 230.3 627.3 227.2 627.3zM369.5 662.4 372.4 657.6 378.1 652.9 381.9 647.1 386.7 641.4 390.5 635.7 393.3 631.0 398.1 630.0 401.0 634.8 401.0 641.4 400.0 647.1 397.1 651.0 395.2 646.2 397.1 639.5 394.3 637.6 391.4 643.3 387.6 647.1 383.8 651.0 381.9 655.7 377.1 657.6 373.3 661.4zM367.6 666.2 370.5 666.2 370.5 669.0 367.6 669.0zM396.2 664.3 400.0 660.5 404.8 658.6 407.6 662.4 408.6 670.0 405.7 672.9 403.8 668.1 402.9 663.3 399.0 666.2 397.1 669.0zM391.4 661.4 393.7 662.4 394.3 666.2 392.4 665.8zM337.1 715.7 338.1 704.3 339.0 696.7 341.0 692.5 342.9 696.7 345.7 699.5 344.8 702.4 341.9 700.5 340.4 708.1 339.6 717.6 338.1 720.5 336.2 718.6zM340.4 684.9 342.3 684.5 342.7 687.5 340.6 687.9zM113.3 752.3 119.0 751.5 124.8 751.9 129.5 755.7 128.6 760.5 124.8 761.4 121.0 757.6 118.1 755.7 117.1 760.5 113.7 763.0 113.0 759.5 115.2 757.6zM174.3 751.5 176.6 751.5 178.1 757.6 179.6 765.2 179.0 768.7 176.2 767.1 174.7 761.4zM101.5 781.4 103.4 788.1 104.2 795.7 107.6 803.3 106.7 805.6 103.4 803.3 101.5 799.5zM101.5 864.3 103.4 868.1 103.4 876.7 101.5 877.6zM270.5 933.8 274.3 931.9 278.1 925.2 281.9 917.6 286.7 910.0 291.4 903.3 297.1 898.6 300.4 896.7 304.8 895.1 305.3 897.6 300.4 900.5 295.2 905.2 290.5 911.9 285.7 920.5 281.9 928.1 277.1 933.8 272.4 937.6 270.1 936.3zM353.3 820.5 355.6 820.5 355.6 823.9 353.3 823.9zM353.7 827.7 355.6 827.7 355.6 830.0 353.7 830.0zM338.1 844.3 342.9 839.5 347.6 834.8 351.4 831.9 352.4 834.8 348.6 838.6 344.8 843.3 340.0 847.1 337.7 846.8zM329.0 851.9 332.4 850.0 334.7 852.9 332.4 855.1 329.0 855.1zM715.3 361.9 719.1 360.6 724.8 361.9 732.5 361.5 742.0 360.0 751.5 356.8 763.0 354.3 776.4 351.6 787.8 349.7 799.3 348.2 810.7 345.9 819.3 344.4 822.2 347.2 825.0 345.3 824.1 340.5 827.9 338.6 831.7 340.5 834.6 336.7 837.5 340.5 842.2 343.4 847.0 341.5 843.2 336.7 837.5 331.0 831.7 326.2 827.9 323.4 825.0 320.5 827.0 319.2 831.7 320.5 833.6 324.3 839.4 329.1 846.0 334.8 851.8 341.5 855.6 347.2 856.5 351.0 850.8 352.4 845.1 354.3 838.4 355.8 836.5 353.9 831.7 353.0 824.1 352.0 818.4 350.5 810.7 350.5 799.3 350.5 787.8 352.4 776.4 354.3 764.9 356.8 755.4 359.6 745.8 363.1 736.3 365.4 730.5 367.3 724.8 365.7 720.0 368.2 716.2 365.7zM820.7 311.0 823.1 311.9 824.1 315.7 822.2 315.3zM841.7 372.0 845.1 374.0 850.8 381.0 856.5 384.8 863.2 386.7 863.8 389.8 856.5 389.2 849.9 386.0 844.1 379.7 841.3 374.9zM869.9 387.9 872.4 385.0 874.1 387.3 871.8 390.6 869.5 390.2zM882.9 367.3 886.1 363.8 892.8 362.5 902.4 361.9 902.4 382.5 898.9 375.9 896.6 369.2 890.9 368.2 888.0 371.5 884.2 372.6zM701.2 235.9 705.3 235.5 709.6 236.5 710.4 238.4 707.5 239.4 702.4 238.4zM731.2 251.2 733.8 251.2 733.8 253.6 731.2 253.6zM750.4 254.4 754.7 253.3 755.5 256.5 754.0 259.5 754.4 268.2 753.6 274.0 755.5 278.4 756.2 282.7 755.0 290.7 751.1 290.7 750.4 285.6 747.7 282.7 748.2 279.8 750.4 278.4 749.6 274.0 748.9 269.6 751.1 265.3 750.4 259.5zM769.3 291.5 772.9 290.7 775.4 292.6 773.6 294.7 769.6 294.1zM778.3 292.6 780.6 292.2 781.6 295.1 780.2 296.5 778.7 295.1zM783.1 282.7 786.0 282.7 786.0 285.9 783.1 285.9zM380.2 211.4 383.5 210.3 386.2 211.9 385.1 214.6 381.8 215.2 379.6 213.5zM396.0 216.3 399.8 215.2 402.5 216.8 401.5 219.0 397.6 219.2 395.8 217.9zM544.8 256.7 549.9 253.8 551.4 259.5 547.6 261.4zM551.0 262.4 555.6 260.5 556.2 265.2 551.4 266.6zM558.1 255.7 561.9 253.8 562.9 259.5 559.4 260.5zM196.2 540.5 201.0 537.6 204.8 539.5 208.6 542.4 212.4 548.1 211.4 551.0 197.1 551.0 195.2 545.2zM142.9 545.2 149.5 546.2 155.2 543.3 161.0 544.3 162.9 549.0 161.0 551.0 144.8 551.0zM199.0 529.0 203.8 531.0 205.7 537.6 201.9 538.6 198.1 534.8zM173.3 538.6 175.8 538.6 175.8 543.3 173.3 543.3zM457.1 352.3 461.9 353.8 471.4 352.9 481.0 351.9 490.5 351.0 500.0 351.5 507.6 352.9 515.2 356.7 524.8 359.5 536.2 362.4 547.6 365.2 559.0 367.5 570.5 369.0 580.0 369.0 582.9 368.1 583.8 370.0 581.0 372.9 576.2 375.1 568.6 376.3 559.0 373.8 549.5 371.9 538.1 369.0 526.7 366.2 517.1 364.3 507.6 360.5 500.0 358.0 490.5 357.2 481.0 358.0 471.4 359.1 463.8 358.6 459.0 355.7zM400.0 505.2 403.8 508.1 408.6 514.8 413.3 523.3 417.1 532.9 421.0 542.4 422.9 550.0 424.8 550.0 427.6 561.4 430.5 576.7 432.4 591.9 433.7 607.1 433.9 622.4 433.3 637.6 431.4 652.9 428.6 668.1 425.7 683.3 421.9 698.6 417.1 713.8 412.4 727.1 407.6 740.5 403.8 750.0 400.0 750.0 401.9 744.3 402.9 738.6 403.8 730.0 407.6 726.2 406.7 721.4 402.9 717.6 405.7 714.8 410.5 713.8 414.3 710.0 412.4 705.2 407.6 704.3 410.5 700.5 414.3 697.6 418.1 692.9 416.2 687.1 420.0 683.3 421.9 677.6 419.0 673.8 421.9 670.0 424.8 664.3 421.9 660.5 416.6 658.6 417.1 655.7 421.9 656.7 424.8 652.9 421.9 649.0 425.7 645.2 427.2 637.6 424.2 633.8 425.7 626.2 427.2 618.6 428.6 611.0 424.8 607.1 425.7 599.5 421.9 593.8 423.8 587.1 420.0 584.3 419.0 578.6 421.9 569.0 420.0 559.5 418.1 550.0 416.2 550.0 415.2 544.3 412.4 534.8 409.5 527.1 405.7 519.5 401.9 512.9 398.1 509.0 397.1 506.6zM404.8 750.0 401.0 759.5 396.2 769.0 391.4 778.6 386.7 787.1 381.0 794.8 375.2 802.4 369.5 810.0 363.8 817.6 360.0 822.4 358.1 820.5 361.0 815.7 360.0 811.0 363.8 806.2 367.6 803.3 370.5 797.6 373.3 792.9 378.1 790.0 381.9 784.3 383.8 778.6 387.6 772.9 391.4 768.1 393.3 761.4 395.2 755.7 399.0 750.0z" fill="#0e6b24" stroke="#000" stroke-width="1.15"/>
<path d="M161.0 481.4 165.7 479.5 169.0 482.4 166.7 485.6 162.9 484.9zM157.1 502.4 161.9 501.4 162.9 508.1 160.0 511.0 157.1 508.1zM188.6 476.7 193.3 475.7 194.3 483.3 190.5 485.2zM268.6 373.2 274.3 373.8 277.1 376.7 272.4 377.0 267.6 376.3z" fill="#918a93" stroke="#000" stroke-width="0.7"/>
</g>
<path d="M185.5 150.50V950.50M328.5 150.50V950.50M471.5 150.50V950.50M614.5 150.50V950.50M757.5 150.50V950.50M100.50 350.5H900.50M100.50 550.5H900.50M100.50 750.5H900.50" stroke="#dcdcdc" stroke-opacity="0.62" stroke-width="1" fill="none" shape-rendering="crispEdges"/>
<path d="M142.3 282.9l5.8 5.8l-5.8 5.8l-5.8 -5.8z" fill="#ffee00" stroke="#000" stroke-width="2.6"/>
<path d="M578.0 249.8l5.8 5.8l-5.8 5.8l-5.8 -5.8z" fill="#ffee00" stroke="#000" stroke-width="2.6"/>
<path d="M659.7 256.9l5.8 5.8l-5.8 5.8l-5.8 -5.8z" fill="#ffee00" stroke="#000" stroke-width="2.6"/>
<path d="M819.6 297.4l5.8 5.8l-5.8 5.8l-5.8 -5.8z" fill="#ffee00" stroke="#000" stroke-width="2.6"/>
<path d="M778.3 337.6l5.8 5.8l-5.8 5.8l-5.8 -5.8z" fill="#ffee00" stroke="#000" stroke-width="2.6"/>
<path d="M856.9 344.3l5.8 5.8l-5.8 5.8l-5.8 -5.8z" fill="#ffee00" stroke="#000" stroke-width="2.6"/>
<path d="M611.4 373.3l5.8 5.8l-5.8 5.8l-5.8 -5.8z" fill="#ffee00" stroke="#000" stroke-width="2.6"/>
<path d="M567.0 504.2l5.8 5.8l-5.8 5.8l-5.8 -5.8z" fill="#ffee00" stroke="#000" stroke-width="2.6"/>
<path d="M778.7 471.9l5.8 5.8l-5.8 5.8l-5.8 -5.8z" fill="#e81010" stroke="#000" stroke-width="2.6"/>
<path d="M100.5 150.5v-4.5M100.5 950.5v4.5M114.5 150.5v-4.5M114.5 950.5v4.5M128.5 150.5v-4.5M128.5 950.5v4.5M142.5 150.5v-4.5M142.5 950.5v4.5M156.5 150.5v-4.5M156.5 950.5v4.5M171.5 150.5v-4.5M171.5 950.5v4.5M185.5 150.5v-8.5M185.5 950.5v8.5M199.5 150.5v-4.5M199.5 950.5v4.5M214.5 150.5v-4.5M214.5 950.5v4.5M228.5 150.5v-4.5M228.5 950.5v4.5M242.5 150.5v-4.5M242.5 950.5v4.5M257.5 150.5v-4.5M257.5 950.5v4.5M271.5 150.5v-4.5M271.5 950.5v4.5M285.5 150.5v-4.5M285.5 950.5v4.5M299.5 150.5v-4.5M299.5 950.5v4.5M314.5 150.5v-4.5M314.5 950.5v4.5M328.5 150.5v-8.5M328.5 950.5v8.5M342.5 150.5v-4.5M342.5 950.5v4.5M357.5 150.5v-4.5M357.5 950.5v4.5M371.5 150.5v-4.5M371.5 950.5v4.5M385.5 150.5v-4.5M385.5 950.5v4.5M400.5 150.5v-4.5M400.5 950.5v4.5M414.5 150.5v-4.5M414.5 950.5v4.5M428.5 150.5v-4.5M428.5 950.5v4.5M442.5 150.5v-4.5M442.5 950.5v4.5M457.5 150.5v-4.5M457.5 950.5v4.5M471.5 150.5v-8.5M471.5 950.5v8.5M485.5 150.5v-4.5M485.5 950.5v4.5M500.5 150.5v-4.5M500.5 950.5v4.5M514.5 150.5v-4.5M514.5 950.5v4.5M528.5 150.5v-4.5M528.5 950.5v4.5M543.5 150.5v-4.5M543.5 950.5v4.5M557.5 150.5v-4.5M557.5 950.5v4.5M571.5 150.5v-4.5M571.5 950.5v4.5M585.5 150.5v-4.5M585.5 950.5v4.5M600.5 150.5v-4.5M600.5 950.5v4.5M614.5 150.5v-8.5M614.5 950.5v8.5M628.5 150.5v-4.5M628.5 950.5v4.5M643.5 150.5v-4.5M643.5 950.5v4.5M657.5 150.5v-4.5M657.5 950.5v4.5M671.5 150.5v-4.5M671.5 950.5v4.5M686.5 150.5v-4.5M686.5 950.5v4.5M700.5 150.5v-4.5M700.5 950.5v4.5M714.5 150.5v-4.5M714.5 950.5v4.5M728.5 150.5v-4.5M728.5 950.5v4.5M743.5 150.5v-4.5M743.5 950.5v4.5M757.5 150.5v-8.5M757.5 950.5v8.5M771.5 150.5v-4.5M771.5 950.5v4.5M786.5 150.5v-4.5M786.5 950.5v4.5M800.5 150.5v-4.5M800.5 950.5v4.5M814.5 150.5v-4.5M814.5 950.5v4.5M829.5 150.5v-4.5M829.5 950.5v4.5M843.5 150.5v-4.5M843.5 950.5v4.5M857.5 150.5v-4.5M857.5 950.5v4.5M871.5 150.5v-4.5M871.5 950.5v4.5M886.5 150.5v-4.5M886.5 950.5v4.5M900.5 150.5v-8.5M900.5 950.5v8.5M100.5 150.5h-8.5M900.5 150.5h8.5M100.5 170.5h-4.5M900.5 170.5h4.5M100.5 190.5h-4.5M900.5 190.5h4.5M100.5 210.5h-4.5M900.5 210.5h4.5M100.5 230.5h-4.5M900.5 230.5h4.5M100.5 250.5h-4.5M900.5 250.5h4.5M100.5 270.5h-4.5M900.5 270.5h4.5M100.5 290.5h-4.5M900.5 290.5h4.5M100.5 310.5h-4.5M900.5 310.5h4.5M100.5 330.5h-4.5M900.5 330.5h4.5M100.5 350.5h-8.5M900.5 350.5h8.5M100.5 370.5h-4.5M900.5 370.5h4.5M100.5 390.5h-4.5M900.5 390.5h4.5M100.5 410.5h-4.5M900.5 410.5h4.5M100.5 430.5h-4.5M900.5 430.5h4.5M100.5 450.5h-4.5M900.5 450.5h4.5M100.5 470.5h-4.5M900.5 470.5h4.5M100.5 490.5h-4.5M900.5 490.5h4.5M100.5 510.5h-4.5M900.5 510.5h4.5M100.5 530.5h-4.5M900.5 530.5h4.5M100.5 550.5h-8.5M900.5 550.5h8.5M100.5 570.5h-4.5M900.5 570.5h4.5M100.5 590.5h-4.5M900.5 590.5h4.5M100.5 610.5h-4.5M900.5 610.5h4.5M100.5 630.5h-4.5M900.5 630.5h4.5M100.5 650.5h-4.5M900.5 650.5h4.5M100.5 670.5h-4.5M900.5 670.5h4.5M100.5 690.5h-4.5M900.5 690.5h4.5M100.5 710.5h-4.5M900.5 710.5h4.5M100.5 730.5h-4.5M900.5 730.5h4.5M100.5 750.5h-8.5M900.5 750.5h8.5M100.5 770.5h-4.5M900.5 770.5h4.5M100.5 790.5h-4.5M900.5 790.5h4.5M100.5 810.5h-4.5M900.5 810.5h4.5M100.5 830.5h-4.5M900.5 830.5h4.5M100.5 850.5h-4.5M900.5 850.5h4.5M100.5 870.5h-4.5M900.5 870.5h4.5M100.5 890.5h-4.5M900.5 890.5h4.5M100.5 910.5h-4.5M900.5 910.5h4.5M100.5 930.5h-4.5M900.5 930.5h4.5M100.5 950.5h-8.5M900.5 950.5h8.5" stroke="#000" stroke-width="1" fill="none" shape-rendering="crispEdges"/>
<rect x="100.5" y="150.5" width="800.0" height="800.0" fill="none" stroke="#000" stroke-width="3" shape-rendering="crispEdges"/>
<text x="232.0" y="30.0" class="sb" font-size="18" textLength="537.0" lengthAdjust="spacingAndGlyphs">University of Southern Mississippi Ocean Cube (AMSEAS)</text>
<text x="232.0" y="1044.2" class="sb" font-size="18" textLength="537.0" lengthAdjust="spacingAndGlyphs">University of Southern Mississippi Ocean Cube (AMSEAS)</text>
<path d="M120 39.1l5.9 5.9l-5.9 5.9l-5.9 -5.9z" fill="#ffee00" stroke="#000" stroke-width="2.7" stroke-linejoin="miter"/>
<path d="M120 54.3l5.9 5.9l-5.9 5.9l-5.9 -5.9z" fill="#e81010" stroke="#000" stroke-width="2.7" stroke-linejoin="miter"/>
<text x="131.0" y="49.5" class="sb" font-size="12" textLength="90.0" lengthAdjust="spacingAndGlyphs">NDBC Station</text>
<text x="131.0" y="64.5" class="sb" font-size="12" textLength="145.0" lengthAdjust="spacingAndGlyphs">Inactive NDBC Station</text>
<rect x="547" y="40" width="348" height="40" fill="#fff" stroke="#000" stroke-width="2" shape-rendering="crispEdges"/>
<text x="550.0" y="54.5" class="sb" font-size="11" textLength="46.5" lengthAdjust="spacingAndGlyphs">'1.0 kts"</text>
<path d="M791.9 50.5H880" stroke="#000" stroke-width="1" fill="none" shape-rendering="crispEdges"/>
<path d="M878.2 45.4L893 50.5L878.2 55.6z" fill="#000"/>
<text x="550.0" y="64.5" class="sb" font-size="11" textLength="46.5" lengthAdjust="spacingAndGlyphs">'2.0 kts"</text>
<path d="M699.0 60.5H880" stroke="#000" stroke-width="1" fill="none" shape-rendering="crispEdges"/>
<path d="M878.2 55.4L893 60.5L878.2 65.6z" fill="#000"/>
<text x="550.0" y="74.5" class="sb" font-size="11" textLength="46.5" lengthAdjust="spacingAndGlyphs">'3.0 kts"</text>
<path d="M607.2 70.5H880" stroke="#000" stroke-width="1" fill="none" shape-rendering="crispEdges"/>
<path d="M878.2 65.4L893 70.5L878.2 75.6z" fill="#000"/>
<text x="288.0" y="109.6" class="tb" font-size="16" textLength="424.0" lengthAdjust="spacingAndGlyphs">Salinity at 19 Feet ANALYSIS valid Jan 30 2020 0000Z</text>
<text x="772.0" y="109.8" class="tb" font-size="12.5" textLength="127.5" lengthAdjust="spacingAndGlyphs">USM Test Range, MS</text>
<text x="187.4" y="134.6" class="s" font-size="10" text-anchor="middle" textLength="32.4" lengthAdjust="spacingAndGlyphs">-89°15'</text>
<text x="187.4" y="972.8" class="s" font-size="10" text-anchor="middle" textLength="32.4" lengthAdjust="spacingAndGlyphs">-89°15'</text>
<text x="330.3" y="134.6" class="s" font-size="10" text-anchor="middle" textLength="32.4" lengthAdjust="spacingAndGlyphs">-89°00'</text>
<text x="330.3" y="972.8" class="s" font-size="10" text-anchor="middle" textLength="32.4" lengthAdjust="spacingAndGlyphs">-89°00'</text>
<text x="473.1" y="134.6" class="s" font-size="10" text-anchor="middle" textLength="32.4" lengthAdjust="spacingAndGlyphs">-88°45'</text>
<text x="473.1" y="972.8" class="s" font-size="10" text-anchor="middle" textLength="32.4" lengthAdjust="spacingAndGlyphs">-88°45'</text>
<text x="616.0" y="134.6" class="s" font-size="10" text-anchor="middle" textLength="32.4" lengthAdjust="spacingAndGlyphs">-88°30'</text>
<text x="616.0" y="972.8" class="s" font-size="10" text-anchor="middle" textLength="32.4" lengthAdjust="spacingAndGlyphs">-88°30'</text>
<text x="758.8" y="134.6" class="s" font-size="10" text-anchor="middle" textLength="32.4" lengthAdjust="spacingAndGlyphs">-88°15'</text>
<text x="758.8" y="972.8" class="s" font-size="10" text-anchor="middle" textLength="32.4" lengthAdjust="spacingAndGlyphs">-88°15'</text>
<text x="901.7" y="134.6" class="s" font-size="10" text-anchor="middle" textLength="32.4" lengthAdjust="spacingAndGlyphs">-88°00'</text>
<text x="901.7" y="972.8" class="s" font-size="10" text-anchor="middle" textLength="32.4" lengthAdjust="spacingAndGlyphs">-88°00'</text>
<text x="85.0" y="154.1" class="s" font-size="10" text-anchor="end" textLength="29.8" lengthAdjust="spacingAndGlyphs">30°30'</text>
<text x="915.3" y="154.1" class="s" font-size="10" textLength="29.8" lengthAdjust="spacingAndGlyphs">30°30'</text>
<text x="85.0" y="354.1" class="s" font-size="10" text-anchor="end" textLength="29.8" lengthAdjust="spacingAndGlyphs">30°15'</text>
<text x="915.3" y="354.1" class="s" font-size="10" textLength="29.8" lengthAdjust="spacingAndGlyphs">30°15'</text>
<text x="85.0" y="554.1" class="s" font-size="10" text-anchor="end" textLength="29.8" lengthAdjust="spacingAndGlyphs">30°00'</text>
<text x="915.3" y="554.1" class="s" font-size="10" textLength="29.8" lengthAdjust="spacingAndGlyphs">30°00'</text>
<text x="85.0" y="754.1" class="s" font-size="10" text-anchor="end" textLength="29.8" lengthAdjust="spacingAndGlyphs">29°45'</text>
<text x="915.3" y="754.1" class="s" font-size="10" textLength="29.8" lengthAdjust="spacingAndGlyphs">29°45'</text>
<text x="85.0" y="954.1" class="s" font-size="10" text-anchor="end" textLength="29.8" lengthAdjust="spacingAndGlyphs">29°30'</text>
<text x="915.3" y="954.1" class="s" font-size="10" textLength="29.8" lengthAdjust="spacingAndGlyphs">29°30'</text>
<defs><linearGradient id="cb" x1="0" y1="1" x2="0" y2="0">
<stop offset="0.0000" stop-color="#ff00ff"/>
<stop offset="0.1667" stop-color="#2a00ff"/>
<stop offset="0.3333" stop-color="#00aaff"/>
<stop offset="0.5000" stop-color="#00ff80"/>
<stop offset="0.6667" stop-color="#55ff00"/>
<stop offset="0.8333" stop-color="#ffd500"/>
<stop offset="1.0000" stop-color="#ff0000"/>
</linearGradient></defs>
<rect x="980.5" y="400.5" width="20" height="300" fill="url(#cb)"/>
<path d="M1001 400.5H1008M1001 450.5H1008M1001 500.5H1008M1001 550.5H1008M1001 600.5H1008M1001 650.5H1008M1001 700.5H1008M979.5 398v2M1000.5 398v2M978 700.5h2" stroke="#000" stroke-width="1" fill="none" shape-rendering="crispEdges"/>
<rect x="980.5" y="400.5" width="20" height="300" fill="none" stroke="#000" stroke-width="3" shape-rendering="crispEdges"/>
<path d="M982 400.5H999M982 450.5H999M982 500.5H999M982 550.5H999M982 600.5H999M982 650.5H999M982 700.5H999" stroke="#d0d0d0" stroke-opacity="0.8" stroke-width="1" fill="none" shape-rendering="crispEdges"/>
<text x="1015.1" y="403.9" class="s" font-size="10.4" textLength="11.7" lengthAdjust="spacingAndGlyphs">37</text>
<text x="1015.1" y="453.9" class="s" font-size="10.4" textLength="11.7" lengthAdjust="spacingAndGlyphs">33</text>
<text x="1015.1" y="503.9" class="s" font-size="10.4" textLength="11.7" lengthAdjust="spacingAndGlyphs">29</text>
<text x="1015.1" y="553.9" class="s" font-size="10.4" textLength="11.7" lengthAdjust="spacingAndGlyphs">25</text>
<text x="1015.1" y="603.9" class="s" font-size="10.4" textLength="11.7" lengthAdjust="spacingAndGlyphs">21</text>
<text x="1015.1" y="653.9" class="s" font-size="10.4" textLength="11.7" lengthAdjust="spacingAndGlyphs">17</text>
<text x="1015.1" y="703.9" class="s" font-size="10.4" textLength="11.7" lengthAdjust="spacingAndGlyphs">13</text>
<text transform="translate(1055,550.5) rotate(-90)" text-anchor="middle" class="sb" font-size="12" textLength="86" lengthAdjust="spacingAndGlyphs">Salinity (psu)</text>
</svg>
</body></html>
